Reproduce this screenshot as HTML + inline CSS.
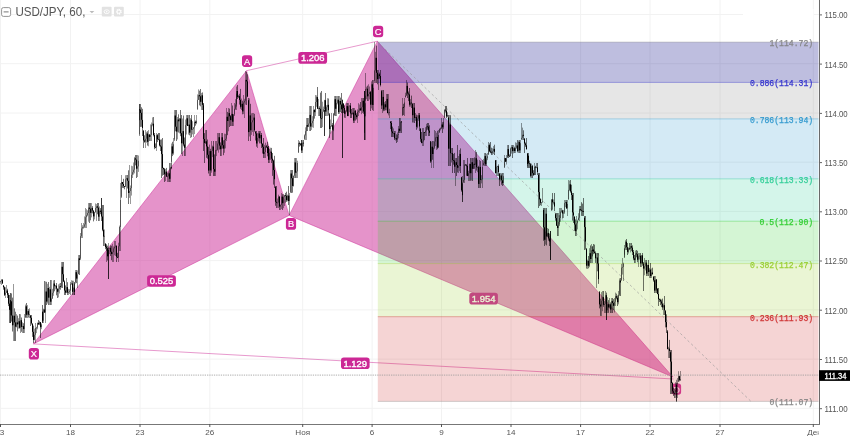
<!DOCTYPE html>
<html><head><meta charset="utf-8"><title>USD/JPY</title>
<style>html,body{margin:0;padding:0;background:#fff;width:850px;height:436px;overflow:hidden;font-family:"Liberation Sans",sans-serif}</style>
</head><body>
<svg width="850" height="436" viewBox="0 0 850 436" style="position:absolute;left:0;top:0;will-change:transform;font-family:'Liberation Sans',sans-serif">
<rect width="850" height="436" fill="#fff"/>
<line x1="0.5" x2="0.5" y1="0" y2="424" stroke="#f2f2f2" stroke-width="1"/>
<line x1="70.5" x2="70.5" y1="0" y2="424" stroke="#f2f2f2" stroke-width="1"/>
<line x1="140" x2="140" y1="0" y2="424" stroke="#f2f2f2" stroke-width="1"/>
<line x1="209.8" x2="209.8" y1="0" y2="424" stroke="#f2f2f2" stroke-width="1"/>
<line x1="302.7" x2="302.7" y1="0" y2="424" stroke="#f2f2f2" stroke-width="1"/>
<line x1="372.1" x2="372.1" y1="0" y2="424" stroke="#f2f2f2" stroke-width="1"/>
<line x1="441.5" x2="441.5" y1="0" y2="424" stroke="#f2f2f2" stroke-width="1"/>
<line x1="511" x2="511" y1="0" y2="424" stroke="#f2f2f2" stroke-width="1"/>
<line x1="580.6" x2="580.6" y1="0" y2="424" stroke="#f2f2f2" stroke-width="1"/>
<line x1="650" x2="650" y1="0" y2="424" stroke="#f2f2f2" stroke-width="1"/>
<line x1="720" x2="720" y1="0" y2="424" stroke="#f2f2f2" stroke-width="1"/>
<line x1="813.3" x2="813.3" y1="0" y2="424" stroke="#f2f2f2" stroke-width="1"/>
<line x1="0" x2="819" y1="14.5" y2="14.5" stroke="#f2f2f2" stroke-width="1"/>
<line x1="0" x2="819" y1="63.7" y2="63.7" stroke="#f2f2f2" stroke-width="1"/>
<line x1="0" x2="819" y1="113.0" y2="113.0" stroke="#f2f2f2" stroke-width="1"/>
<line x1="0" x2="819" y1="162.2" y2="162.2" stroke="#f2f2f2" stroke-width="1"/>
<line x1="0" x2="819" y1="211.4" y2="211.4" stroke="#f2f2f2" stroke-width="1"/>
<line x1="0" x2="819" y1="260.6" y2="260.6" stroke="#f2f2f2" stroke-width="1"/>
<line x1="0" x2="819" y1="309.9" y2="309.9" stroke="#f2f2f2" stroke-width="1"/>
<line x1="0" x2="819" y1="359.1" y2="359.1" stroke="#f2f2f2" stroke-width="1"/>
<line x1="0" x2="819" y1="408.3" y2="408.3" stroke="#f2f2f2" stroke-width="1"/>
<rect x="743" y="9" width="70.5" height="11" fill="#fff"/>
<polygon points="33.4,343.9 246.5,70.7 289.1,215.4" fill="#CC2895" fill-opacity="0.5"/>
<polygon points="289.1,215.4 377.4,41.2 673,377" fill="#CC2895" fill-opacity="0.5"/>
<line x1="33.4" y1="343.9" x2="289.1" y2="215.4" stroke="#CC2895" stroke-opacity="0.6" stroke-width="0.8"/>
<line x1="246.5" y1="70.7" x2="377.4" y2="41.2" stroke="#CC2895" stroke-opacity="0.6" stroke-width="0.8"/>
<line x1="289.1" y1="215.4" x2="673" y2="377" stroke="#CC2895" stroke-opacity="0.6" stroke-width="0.8"/>
<line x1="33.4" y1="343.9" x2="673.5" y2="379" stroke="#CC2895" stroke-opacity="0.6" stroke-width="0.8"/>
<line x1="33.4" y1="343.9" x2="246.5" y2="70.7" stroke="#CC2895" stroke-opacity="0.6" stroke-width="0.8"/>
<line x1="246.5" y1="70.7" x2="289.1" y2="215.4" stroke="#CC2895" stroke-opacity="0.6" stroke-width="0.8"/>
<line x1="289.1" y1="215.4" x2="377.4" y2="41.2" stroke="#CC2895" stroke-opacity="0.6" stroke-width="0.8"/>
<line x1="377.4" y1="41.2" x2="673" y2="377" stroke="#CC2895" stroke-opacity="0.6" stroke-width="0.8"/>
<rect x="28.8" y="347.9" width="10.2" height="11.6" rx="2.8" ry="2.8" fill="#CC2895" fill-opacity="1"/><text x="33.9" y="357.1" font-size="9.3" text-anchor="middle" fill="#fff" stroke="#fff" stroke-width="0.2">X</text>
<rect x="242.0" y="55.3" width="10.2" height="11.6" rx="2.8" ry="2.8" fill="#CC2895" fill-opacity="1"/><text x="247.1" y="64.5" font-size="9.3" text-anchor="middle" fill="#fff" stroke="#fff" stroke-width="0.2">A</text>
<rect x="285.9" y="218.1" width="10.2" height="11.6" rx="2.8" ry="2.8" fill="#CC2895" fill-opacity="1"/><text x="291.1" y="227.3" font-size="9.3" text-anchor="middle" fill="#fff" stroke="#fff" stroke-width="0.2">B</text>
<rect x="373.0" y="25.7" width="10.2" height="11.6" rx="2.8" ry="2.8" fill="#CC2895" fill-opacity="1"/><text x="378.1" y="34.9" font-size="9.3" text-anchor="middle" fill="#fff" stroke="#fff" stroke-width="0.2">C</text>
<rect x="671.9" y="383.6" width="9.2" height="11.2" rx="2.8" ry="2.8" fill="#CC2895" fill-opacity="0.9"/><text x="676.5" y="392.6" font-size="9.3" text-anchor="middle" fill="#fff" stroke="#fff" stroke-width="0.2">D</text>
<rect x="298.3" y="52.1" width="28.8" height="11.6" rx="2.8" ry="2.8" fill="#CC2895"/><text x="312.7" y="61.2" font-size="9.3" text-anchor="middle" fill="#fff" stroke="#fff" stroke-width="0.35" textLength="23.6" lengthAdjust="spacingAndGlyphs">1.206</text>
<rect x="147.1" y="275.2" width="28.8" height="11.6" rx="2.8" ry="2.8" fill="#CC2895"/><text x="161.5" y="284.4" font-size="9.3" text-anchor="middle" fill="#fff" stroke="#fff" stroke-width="0.35" textLength="23.6" lengthAdjust="spacingAndGlyphs">0.525</text>
<rect x="469.3" y="292.7" width="28.6" height="11.8" rx="2.8" ry="2.8" fill="#CC2895"/><text x="483.6" y="302.0" font-size="9.3" text-anchor="middle" fill="#fff" stroke="#fff" stroke-width="0.35" textLength="23.6" lengthAdjust="spacingAndGlyphs">1.954</text>
<rect x="341.0" y="357.6" width="28.6" height="11.4" rx="2.8" ry="2.8" fill="#CC2895"/><text x="355.3" y="366.7" font-size="9.3" text-anchor="middle" fill="#fff" stroke="#fff" stroke-width="0.35" textLength="23.6" lengthAdjust="spacingAndGlyphs">1.129</text>
<rect x="377.8" y="42.1" width="440.7" height="40.4" fill="#10108A" fill-opacity="0.27"/>
<rect x="377.8" y="82.4" width="440.7" height="36.4" fill="#808080" fill-opacity="0.2"/>
<rect x="377.8" y="118.9" width="440.7" height="60.1" fill="#2895CC" fill-opacity="0.2"/>
<rect x="377.8" y="178.9" width="440.7" height="42.3" fill="#28CC95" fill-opacity="0.2"/>
<rect x="377.8" y="221.2" width="440.7" height="42.3" fill="#28CC28" fill-opacity="0.2"/>
<rect x="377.8" y="263.6" width="440.7" height="53.2" fill="#95CC28" fill-opacity="0.2"/>
<rect x="377.8" y="316.7" width="440.7" height="84.7" fill="#CC2828" fill-opacity="0.2"/>
<line x1="377.8" x2="818.5" y1="42.1" y2="42.1" stroke="#808080" stroke-opacity="0.35" stroke-width="1"/>
<line x1="377.8" x2="818.5" y1="82.4" y2="82.4" stroke="#2828CC" stroke-opacity="0.35" stroke-width="1"/>
<line x1="377.8" x2="818.5" y1="118.9" y2="118.9" stroke="#2895CC" stroke-opacity="0.35" stroke-width="1"/>
<line x1="377.8" x2="818.5" y1="178.9" y2="178.9" stroke="#28CC95" stroke-opacity="0.35" stroke-width="1"/>
<line x1="377.8" x2="818.5" y1="221.2" y2="221.2" stroke="#28CC28" stroke-opacity="0.35" stroke-width="1"/>
<line x1="377.8" x2="818.5" y1="263.6" y2="263.6" stroke="#95CC28" stroke-opacity="0.35" stroke-width="1"/>
<line x1="377.8" x2="818.5" y1="316.7" y2="316.7" stroke="#CC2828" stroke-opacity="0.35" stroke-width="1"/>
<line x1="377.8" x2="818.5" y1="401.4" y2="401.4" stroke="#808080" stroke-opacity="0.35" stroke-width="1"/>
<line x1="377.8" y1="42.1" x2="751" y2="401.4" stroke="#999" stroke-width="0.8" stroke-dasharray="2.5,2.5" stroke-opacity="0.8"/>
<text x="813.2" y="46.1" font-family="Liberation Mono, monospace" font-size="8.8" text-anchor="end" textLength="43.8" lengthAdjust="spacingAndGlyphs" fill="#808080" stroke="#808080" stroke-width="0.25" fill-opacity="0.9" stroke-opacity="0.9">1(114.72)</text>
<text x="813.2" y="86.4" font-family="Liberation Mono, monospace" font-size="8.8" text-anchor="end" textLength="63.3" lengthAdjust="spacingAndGlyphs" fill="#2828CC" stroke="#2828CC" stroke-width="0.25" fill-opacity="0.9" stroke-opacity="0.9">0.886(114.31)</text>
<text x="813.2" y="122.9" font-family="Liberation Mono, monospace" font-size="8.8" text-anchor="end" textLength="63.3" lengthAdjust="spacingAndGlyphs" fill="#2895CC" stroke="#2895CC" stroke-width="0.25" fill-opacity="0.9" stroke-opacity="0.9">0.786(113.94)</text>
<text x="813.2" y="182.9" font-family="Liberation Mono, monospace" font-size="8.8" text-anchor="end" textLength="63.3" lengthAdjust="spacingAndGlyphs" fill="#28CC95" stroke="#28CC95" stroke-width="0.25" fill-opacity="0.9" stroke-opacity="0.9">0.618(113.33)</text>
<text x="813.2" y="225.2" font-family="Liberation Mono, monospace" font-size="8.8" text-anchor="end" textLength="53.6" lengthAdjust="spacingAndGlyphs" fill="#28CC28" stroke="#28CC28" stroke-width="0.25" fill-opacity="0.9" stroke-opacity="0.9">0.5(112.90)</text>
<text x="813.2" y="267.6" font-family="Liberation Mono, monospace" font-size="8.8" text-anchor="end" textLength="63.3" lengthAdjust="spacingAndGlyphs" fill="#95CC28" stroke="#95CC28" stroke-width="0.25" fill-opacity="0.9" stroke-opacity="0.9">0.382(112.47)</text>
<text x="813.2" y="320.7" font-family="Liberation Mono, monospace" font-size="8.8" text-anchor="end" textLength="63.3" lengthAdjust="spacingAndGlyphs" fill="#CC2828" stroke="#CC2828" stroke-width="0.25" fill-opacity="0.9" stroke-opacity="0.9">0.236(111.93)</text>
<text x="813.2" y="405.4" font-family="Liberation Mono, monospace" font-size="8.8" text-anchor="end" textLength="43.8" lengthAdjust="spacingAndGlyphs" fill="#808080" stroke="#808080" stroke-width="0.25" fill-opacity="0.9" stroke-opacity="0.9">0(111.07)</text>
<line x1="0.5" x2="0.5" y1="280.8" y2="283.8" stroke="#000" stroke-opacity="0.4" stroke-width="1"/>
<rect x="0.0" y="281.2" width="1" height="0.8" fill="#000" fill-opacity="0.45"/>
<line x1="1.5" x2="1.5" y1="279.0" y2="285.0" stroke="#000" stroke-opacity="0.4" stroke-width="1"/>
<rect x="1.0" y="280.1" width="1" height="1.1" fill="#000" fill-opacity="0.45"/>
<line x1="2.5" x2="2.5" y1="279.0" y2="283.6" stroke="#000" stroke-opacity="0.55" stroke-width="1"/>
<rect x="2.0" y="280.1" width="1" height="3.4" fill="#000" fill-opacity="1"/>
<line x1="3.5" x2="3.5" y1="285.0" y2="289.7" stroke="#000" stroke-opacity="0.55" stroke-width="1"/>
<rect x="3.0" y="285.6" width="1" height="1.6" fill="#000" fill-opacity="1"/>
<line x1="4.5" x2="4.5" y1="286.5" y2="296.0" stroke="#000" stroke-opacity="0.55" stroke-width="1"/>
<rect x="4.0" y="287.3" width="1" height="7.5" fill="#000" fill-opacity="1"/>
<line x1="5.5" x2="5.5" y1="287.2" y2="298.0" stroke="#000" stroke-opacity="0.4" stroke-width="1"/>
<rect x="5.0" y="292.8" width="1" height="2.0" fill="#000" fill-opacity="0.45"/>
<line x1="6.5" x2="6.5" y1="285.0" y2="293.0" stroke="#000" stroke-opacity="0.4" stroke-width="1"/>
<rect x="6.0" y="290.5" width="1" height="2.3" fill="#000" fill-opacity="0.45"/>
<line x1="7.5" x2="7.5" y1="288.8" y2="298.0" stroke="#000" stroke-opacity="0.55" stroke-width="1"/>
<rect x="7.0" y="290.5" width="1" height="4.3" fill="#000" fill-opacity="1"/>
<line x1="8.5" x2="8.5" y1="293.0" y2="306.1" stroke="#000" stroke-opacity="0.55" stroke-width="1"/>
<rect x="8.0" y="294.8" width="1" height="8.9" fill="#000" fill-opacity="1"/>
<line x1="9.5" x2="9.5" y1="295.0" y2="323.0" stroke="#000" stroke-opacity="0.55" stroke-width="1"/>
<rect x="9.0" y="303.6" width="1" height="6.2" fill="#000" fill-opacity="1"/>
<line x1="10.5" x2="10.5" y1="293.0" y2="310.7" stroke="#000" stroke-opacity="0.4" stroke-width="1"/>
<rect x="10.0" y="309.1" width="1" height="0.8" fill="#000" fill-opacity="0.45"/>
<line x1="10.5" x2="10.5" y1="293.0" y2="314.9" stroke="#000" stroke-opacity="0.4" stroke-width="1"/>
<rect x="10.0" y="301.3" width="1" height="7.8" fill="#000" fill-opacity="0.45"/>
<line x1="11.5" x2="11.5" y1="293.4" y2="321.6" stroke="#000" stroke-opacity="0.55" stroke-width="1"/>
<rect x="11.0" y="301.3" width="1" height="14.2" fill="#000" fill-opacity="1"/>
<line x1="12.5" x2="12.5" y1="297.6" y2="331.5" stroke="#000" stroke-opacity="0.55" stroke-width="1"/>
<rect x="12.0" y="315.5" width="1" height="9.8" fill="#000" fill-opacity="1"/>
<line x1="13.5" x2="13.5" y1="284.0" y2="341.0" stroke="#000" stroke-opacity="0.4" stroke-width="1"/>
<rect x="13.0" y="315.7" width="1" height="9.5" fill="#000" fill-opacity="0.45"/>
<line x1="14.5" x2="14.5" y1="308.3" y2="341.0" stroke="#000" stroke-opacity="0.55" stroke-width="1"/>
<rect x="14.0" y="315.7" width="1" height="6.7" fill="#000" fill-opacity="1"/>
<line x1="15.5" x2="15.5" y1="311.7" y2="341.0" stroke="#000" stroke-opacity="0.55" stroke-width="1"/>
<rect x="15.0" y="322.4" width="1" height="4.3" fill="#000" fill-opacity="1"/>
<line x1="16.5" x2="16.5" y1="314.1" y2="327.4" stroke="#000" stroke-opacity="0.4" stroke-width="1"/>
<rect x="16.0" y="322.4" width="1" height="4.4" fill="#000" fill-opacity="0.45"/>
<line x1="17.5" x2="17.5" y1="315.6" y2="331.3" stroke="#000" stroke-opacity="0.55" stroke-width="1"/>
<rect x="17.0" y="322.4" width="1" height="2.0" fill="#000" fill-opacity="1"/>
<line x1="18.5" x2="18.5" y1="318.2" y2="328.6" stroke="#000" stroke-opacity="0.4" stroke-width="1"/>
<rect x="18.0" y="321.2" width="1" height="3.1" fill="#000" fill-opacity="0.45"/>
<line x1="19.5" x2="19.5" y1="314.0" y2="328.6" stroke="#000" stroke-opacity="0.55" stroke-width="1"/>
<rect x="19.0" y="321.2" width="1" height="6.6" fill="#000" fill-opacity="1"/>
<line x1="20.5" x2="20.5" y1="314.2" y2="333.0" stroke="#000" stroke-opacity="0.4" stroke-width="1"/>
<rect x="20.0" y="320.2" width="1" height="7.6" fill="#000" fill-opacity="0.45"/>
<line x1="21.5" x2="21.5" y1="317.5" y2="331.8" stroke="#000" stroke-opacity="0.55" stroke-width="1"/>
<rect x="21.0" y="320.2" width="1" height="6.7" fill="#000" fill-opacity="1"/>
<line x1="22.5" x2="22.5" y1="322.3" y2="333.0" stroke="#000" stroke-opacity="0.4" stroke-width="1"/>
<rect x="22.0" y="326.1" width="1" height="0.8" fill="#000" fill-opacity="0.45"/>
<line x1="23.5" x2="23.5" y1="323.2" y2="333.0" stroke="#000" stroke-opacity="0.55" stroke-width="1"/>
<rect x="23.0" y="326.1" width="1" height="3.0" fill="#000" fill-opacity="1"/>
<line x1="24.5" x2="24.5" y1="314.0" y2="333.0" stroke="#000" stroke-opacity="0.4" stroke-width="1"/>
<rect x="24.0" y="318.8" width="1" height="10.3" fill="#000" fill-opacity="0.45"/>
<line x1="25.5" x2="25.5" y1="304.6" y2="318.0" stroke="#000" stroke-opacity="0.4" stroke-width="1"/>
<rect x="25.0" y="306.3" width="1" height="11.0" fill="#000" fill-opacity="0.45"/>
<line x1="26.5" x2="26.5" y1="303.0" y2="317.8" stroke="#000" stroke-opacity="0.55" stroke-width="1"/>
<rect x="26.0" y="306.3" width="1" height="8.5" fill="#000" fill-opacity="1"/>
<line x1="27.5" x2="27.5" y1="305.1" y2="318.0" stroke="#000" stroke-opacity="0.4" stroke-width="1"/>
<rect x="27.0" y="311.1" width="1" height="3.7" fill="#000" fill-opacity="0.45"/>
<line x1="28.5" x2="28.5" y1="309.2" y2="317.5" stroke="#000" stroke-opacity="0.55" stroke-width="1"/>
<rect x="28.0" y="311.1" width="1" height="3.6" fill="#000" fill-opacity="1"/>
<line x1="29.5" x2="29.5" y1="308.3" y2="318.0" stroke="#000" stroke-opacity="0.4" stroke-width="1"/>
<rect x="29.0" y="314.2" width="1" height="0.8" fill="#000" fill-opacity="0.45"/>
<line x1="30.5" x2="30.5" y1="315.0" y2="326.0" stroke="#000" stroke-opacity="0.55" stroke-width="1"/>
<rect x="30.0" y="315.6" width="1" height="2.2" fill="#000" fill-opacity="1"/>
<line x1="31.5" x2="31.5" y1="315.0" y2="324.6" stroke="#000" stroke-opacity="0.55" stroke-width="1"/>
<rect x="31.0" y="317.8" width="1" height="5.5" fill="#000" fill-opacity="1"/>
<line x1="32.5" x2="32.5" y1="323.0" y2="336.9" stroke="#000" stroke-opacity="0.55" stroke-width="1"/>
<rect x="32.0" y="324.0" width="1" height="7.8" fill="#000" fill-opacity="1"/>
<line x1="33.5" x2="33.5" y1="325.6" y2="343.0" stroke="#000" stroke-opacity="0.55" stroke-width="1"/>
<rect x="33.0" y="331.8" width="1" height="8.1" fill="#000" fill-opacity="1"/>
<line x1="34.5" x2="34.5" y1="328.7" y2="340.4" stroke="#000" stroke-opacity="0.4" stroke-width="1"/>
<rect x="34.0" y="334.8" width="1" height="5.1" fill="#000" fill-opacity="0.45"/>
<line x1="35.5" x2="35.5" y1="323.0" y2="343.0" stroke="#000" stroke-opacity="0.4" stroke-width="1"/>
<rect x="35.0" y="328.0" width="1" height="6.8" fill="#000" fill-opacity="0.45"/>
<line x1="36.5" x2="36.5" y1="326.8" y2="333.1" stroke="#000" stroke-opacity="0.4" stroke-width="1"/>
<rect x="36.0" y="327.6" width="1" height="0.8" fill="#000" fill-opacity="0.45"/>
<line x1="37.5" x2="37.5" y1="322.5" y2="329.3" stroke="#000" stroke-opacity="0.4" stroke-width="1"/>
<rect x="37.0" y="323.0" width="1" height="4.6" fill="#000" fill-opacity="0.45"/>
<line x1="38.5" x2="38.5" y1="320.0" y2="324.8" stroke="#000" stroke-opacity="0.55" stroke-width="1"/>
<rect x="38.0" y="323.0" width="1" height="1.4" fill="#000" fill-opacity="1"/>
<line x1="39.5" x2="39.5" y1="320.9" y2="325.2" stroke="#000" stroke-opacity="0.4" stroke-width="1"/>
<rect x="39.0" y="322.2" width="1" height="2.2" fill="#000" fill-opacity="0.45"/>
<line x1="40.5" x2="40.5" y1="322.0" y2="338.0" stroke="#000" stroke-opacity="0.55" stroke-width="1"/>
<rect x="40.0" y="322.2" width="1" height="5.0" fill="#000" fill-opacity="1"/>
<line x1="41.5" x2="41.5" y1="323.3" y2="329.2" stroke="#000" stroke-opacity="0.4" stroke-width="1"/>
<rect x="41.0" y="324.5" width="1" height="2.6" fill="#000" fill-opacity="0.45"/>
<line x1="42.5" x2="42.5" y1="311.1" y2="323.0" stroke="#000" stroke-opacity="0.4" stroke-width="1"/>
<rect x="42.0" y="312.1" width="1" height="10.0" fill="#000" fill-opacity="0.45"/>
<line x1="42.5" x2="42.5" y1="305.0" y2="323.0" stroke="#000" stroke-opacity="0.55" stroke-width="1"/>
<rect x="42.0" y="312.1" width="1" height="8.6" fill="#000" fill-opacity="1"/>
<line x1="43.5" x2="43.5" y1="308.7" y2="323.0" stroke="#000" stroke-opacity="0.4" stroke-width="1"/>
<rect x="43.0" y="309.5" width="1" height="11.2" fill="#000" fill-opacity="0.45"/>
<line x1="44.5" x2="44.5" y1="281.0" y2="312.9" stroke="#000" stroke-opacity="0.55" stroke-width="1"/>
<rect x="44.0" y="309.5" width="1" height="3.0" fill="#000" fill-opacity="1"/>
<line x1="45.5" x2="45.5" y1="281.5" y2="323.0" stroke="#000" stroke-opacity="0.4" stroke-width="1"/>
<rect x="45.0" y="291.5" width="1" height="21.0" fill="#000" fill-opacity="0.45"/>
<line x1="46.5" x2="46.5" y1="281.8" y2="305.0" stroke="#000" stroke-opacity="0.55" stroke-width="1"/>
<rect x="46.0" y="291.5" width="1" height="10.1" fill="#000" fill-opacity="1"/>
<line x1="47.5" x2="47.5" y1="283.8" y2="303.5" stroke="#000" stroke-opacity="0.4" stroke-width="1"/>
<rect x="47.0" y="288.0" width="1" height="13.6" fill="#000" fill-opacity="0.45"/>
<line x1="48.5" x2="48.5" y1="282.0" y2="305.0" stroke="#000" stroke-opacity="0.55" stroke-width="1"/>
<rect x="48.0" y="288.0" width="1" height="9.7" fill="#000" fill-opacity="1"/>
<line x1="49.5" x2="49.5" y1="286.8" y2="305.0" stroke="#000" stroke-opacity="0.4" stroke-width="1"/>
<rect x="49.0" y="289.3" width="1" height="8.4" fill="#000" fill-opacity="0.45"/>
<line x1="50.5" x2="50.5" y1="280.0" y2="305.0" stroke="#000" stroke-opacity="0.55" stroke-width="1"/>
<rect x="50.0" y="289.3" width="1" height="12.4" fill="#000" fill-opacity="1"/>
<line x1="51.5" x2="51.5" y1="280.0" y2="305.0" stroke="#000" stroke-opacity="0.4" stroke-width="1"/>
<rect x="51.0" y="298.5" width="1" height="3.2" fill="#000" fill-opacity="0.45"/>
<line x1="52.5" x2="52.5" y1="288.8" y2="298.9" stroke="#000" stroke-opacity="0.4" stroke-width="1"/>
<rect x="52.0" y="292.8" width="1" height="5.7" fill="#000" fill-opacity="0.45"/>
<line x1="53.5" x2="53.5" y1="280.4" y2="295.8" stroke="#000" stroke-opacity="0.4" stroke-width="1"/>
<rect x="53.0" y="283.5" width="1" height="9.3" fill="#000" fill-opacity="0.45"/>
<line x1="54.5" x2="54.5" y1="280.0" y2="291.3" stroke="#000" stroke-opacity="0.55" stroke-width="1"/>
<rect x="54.0" y="283.5" width="1" height="2.7" fill="#000" fill-opacity="1"/>
<line x1="55.5" x2="55.5" y1="285.0" y2="289.4" stroke="#000" stroke-opacity="0.4" stroke-width="1"/>
<rect x="55.0" y="285.7" width="1" height="0.8" fill="#000" fill-opacity="0.45"/>
<line x1="56.5" x2="56.5" y1="283.0" y2="295.3" stroke="#000" stroke-opacity="0.55" stroke-width="1"/>
<rect x="56.0" y="285.7" width="1" height="2.9" fill="#000" fill-opacity="1"/>
<line x1="57.5" x2="57.5" y1="288.6" y2="298.0" stroke="#000" stroke-opacity="0.55" stroke-width="1"/>
<rect x="57.0" y="288.7" width="1" height="3.1" fill="#000" fill-opacity="1"/>
<line x1="58.5" x2="58.5" y1="284.4" y2="297.4" stroke="#000" stroke-opacity="0.4" stroke-width="1"/>
<rect x="58.0" y="288.7" width="1" height="3.0" fill="#000" fill-opacity="0.45"/>
<line x1="59.5" x2="59.5" y1="283.5" y2="293.5" stroke="#000" stroke-opacity="0.4" stroke-width="1"/>
<rect x="59.0" y="286.2" width="1" height="2.6" fill="#000" fill-opacity="0.45"/>
<line x1="60.5" x2="60.5" y1="283.0" y2="289.7" stroke="#000" stroke-opacity="0.55" stroke-width="1"/>
<rect x="60.0" y="286.2" width="1" height="0.8" fill="#000" fill-opacity="1"/>
<line x1="61.5" x2="61.5" y1="262.0" y2="288.0" stroke="#000" stroke-opacity="0.4" stroke-width="1"/>
<rect x="61.0" y="266.8" width="1" height="19.9" fill="#000" fill-opacity="0.45"/>
<line x1="62.5" x2="62.5" y1="262.0" y2="288.0" stroke="#000" stroke-opacity="0.55" stroke-width="1"/>
<rect x="62.0" y="266.8" width="1" height="7.4" fill="#000" fill-opacity="1"/>
<line x1="63.5" x2="63.5" y1="262.0" y2="281.8" stroke="#000" stroke-opacity="0.55" stroke-width="1"/>
<rect x="63.0" y="274.3" width="1" height="7.2" fill="#000" fill-opacity="1"/>
<line x1="64.5" x2="64.5" y1="280.4" y2="295.0" stroke="#000" stroke-opacity="0.55" stroke-width="1"/>
<rect x="64.0" y="281.5" width="1" height="9.0" fill="#000" fill-opacity="1"/>
<line x1="65.5" x2="65.5" y1="285.4" y2="295.0" stroke="#000" stroke-opacity="0.55" stroke-width="1"/>
<rect x="65.0" y="290.5" width="1" height="2.2" fill="#000" fill-opacity="1"/>
<line x1="66.5" x2="66.5" y1="278.0" y2="292.8" stroke="#000" stroke-opacity="0.4" stroke-width="1"/>
<rect x="66.0" y="287.1" width="1" height="5.6" fill="#000" fill-opacity="0.45"/>
<line x1="67.5" x2="67.5" y1="282.2" y2="295.0" stroke="#000" stroke-opacity="0.55" stroke-width="1"/>
<rect x="67.0" y="287.1" width="1" height="5.5" fill="#000" fill-opacity="1"/>
<line x1="68.5" x2="68.5" y1="288.8" y2="295.0" stroke="#000" stroke-opacity="0.4" stroke-width="1"/>
<rect x="68.0" y="292.1" width="1" height="0.8" fill="#000" fill-opacity="0.45"/>
<line x1="69.5" x2="69.5" y1="289.1" y2="294.0" stroke="#000" stroke-opacity="0.4" stroke-width="1"/>
<rect x="69.0" y="290.7" width="1" height="1.4" fill="#000" fill-opacity="0.45"/>
<line x1="70.5" x2="70.5" y1="282.0" y2="295.0" stroke="#000" stroke-opacity="0.4" stroke-width="1"/>
<rect x="70.0" y="283.8" width="1" height="6.9" fill="#000" fill-opacity="0.45"/>
<line x1="71.5" x2="71.5" y1="280.2" y2="284.8" stroke="#000" stroke-opacity="0.4" stroke-width="1"/>
<rect x="71.0" y="283.4" width="1" height="0.8" fill="#000" fill-opacity="0.45"/>
<line x1="72.5" x2="72.5" y1="280.7" y2="295.0" stroke="#000" stroke-opacity="0.55" stroke-width="1"/>
<rect x="72.0" y="283.4" width="1" height="8.4" fill="#000" fill-opacity="1"/>
<line x1="73.5" x2="73.5" y1="280.7" y2="295.0" stroke="#000" stroke-opacity="0.4" stroke-width="1"/>
<rect x="73.0" y="287.6" width="1" height="4.2" fill="#000" fill-opacity="0.45"/>
<line x1="74.5" x2="74.5" y1="283.7" y2="295.0" stroke="#000" stroke-opacity="0.55" stroke-width="1"/>
<rect x="74.0" y="287.6" width="1" height="4.3" fill="#000" fill-opacity="1"/>
<line x1="74.5" x2="74.5" y1="282.1" y2="295.0" stroke="#000" stroke-opacity="0.4" stroke-width="1"/>
<rect x="74.0" y="282.2" width="1" height="9.6" fill="#000" fill-opacity="0.45"/>
<line x1="75.5" x2="75.5" y1="270.0" y2="283.6" stroke="#000" stroke-opacity="0.4" stroke-width="1"/>
<rect x="75.0" y="272.2" width="1" height="10.0" fill="#000" fill-opacity="0.45"/>
<line x1="76.5" x2="76.5" y1="270.0" y2="283.1" stroke="#000" stroke-opacity="0.55" stroke-width="1"/>
<rect x="76.0" y="272.2" width="1" height="6.4" fill="#000" fill-opacity="1"/>
<line x1="77.5" x2="77.5" y1="270.3" y2="288.0" stroke="#000" stroke-opacity="0.4" stroke-width="1"/>
<rect x="77.0" y="274.5" width="1" height="4.1" fill="#000" fill-opacity="0.45"/>
<line x1="78.5" x2="78.5" y1="255.0" y2="274.4" stroke="#000" stroke-opacity="0.4" stroke-width="1"/>
<rect x="78.0" y="258.3" width="1" height="15.7" fill="#000" fill-opacity="0.45"/>
<line x1="79.5" x2="79.5" y1="255.0" y2="275.0" stroke="#000" stroke-opacity="0.55" stroke-width="1"/>
<rect x="79.0" y="258.3" width="1" height="1.7" fill="#000" fill-opacity="1"/>
<line x1="80.5" x2="80.5" y1="233.0" y2="260.0" stroke="#000" stroke-opacity="0.4" stroke-width="1"/>
<rect x="80.0" y="236.2" width="1" height="22.4" fill="#000" fill-opacity="0.45"/>
<line x1="81.5" x2="81.5" y1="223.0" y2="238.0" stroke="#000" stroke-opacity="0.4" stroke-width="1"/>
<rect x="81.0" y="228.5" width="1" height="7.7" fill="#000" fill-opacity="0.45"/>
<line x1="82.5" x2="82.5" y1="225.2" y2="238.0" stroke="#000" stroke-opacity="0.4" stroke-width="1"/>
<rect x="82.0" y="227.1" width="1" height="1.4" fill="#000" fill-opacity="0.45"/>
<line x1="83.5" x2="83.5" y1="223.0" y2="228.7" stroke="#000" stroke-opacity="0.4" stroke-width="1"/>
<rect x="83.0" y="226.8" width="1" height="0.8" fill="#000" fill-opacity="0.45"/>
<line x1="84.5" x2="84.5" y1="216.4" y2="228.0" stroke="#000" stroke-opacity="0.4" stroke-width="1"/>
<rect x="84.0" y="224.4" width="1" height="2.3" fill="#000" fill-opacity="0.45"/>
<line x1="85.5" x2="85.5" y1="208.0" y2="228.0" stroke="#000" stroke-opacity="0.4" stroke-width="1"/>
<rect x="85.0" y="217.2" width="1" height="7.2" fill="#000" fill-opacity="0.45"/>
<line x1="86.5" x2="86.5" y1="209.2" y2="228.0" stroke="#000" stroke-opacity="0.4" stroke-width="1"/>
<rect x="86.0" y="215.2" width="1" height="2.0" fill="#000" fill-opacity="0.45"/>
<line x1="87.5" x2="87.5" y1="210.3" y2="216.3" stroke="#000" stroke-opacity="0.4" stroke-width="1"/>
<rect x="87.0" y="213.0" width="1" height="2.2" fill="#000" fill-opacity="0.45"/>
<line x1="88.5" x2="88.5" y1="203.0" y2="221.7" stroke="#000" stroke-opacity="0.4" stroke-width="1"/>
<rect x="88.0" y="207.6" width="1" height="5.4" fill="#000" fill-opacity="0.45"/>
<line x1="89.5" x2="89.5" y1="203.0" y2="223.0" stroke="#000" stroke-opacity="0.55" stroke-width="1"/>
<rect x="89.0" y="207.6" width="1" height="1.2" fill="#000" fill-opacity="1"/>
<line x1="90.5" x2="90.5" y1="203.0" y2="220.3" stroke="#000" stroke-opacity="0.55" stroke-width="1"/>
<rect x="90.0" y="208.7" width="1" height="4.1" fill="#000" fill-opacity="1"/>
<line x1="91.5" x2="91.5" y1="203.0" y2="217.4" stroke="#000" stroke-opacity="0.4" stroke-width="1"/>
<rect x="91.0" y="207.9" width="1" height="5.0" fill="#000" fill-opacity="0.45"/>
<line x1="92.5" x2="92.5" y1="206.1" y2="213.4" stroke="#000" stroke-opacity="0.55" stroke-width="1"/>
<rect x="92.0" y="207.9" width="1" height="2.7" fill="#000" fill-opacity="1"/>
<line x1="93.5" x2="93.5" y1="210.4" y2="221.4" stroke="#000" stroke-opacity="0.55" stroke-width="1"/>
<rect x="93.0" y="210.6" width="1" height="5.8" fill="#000" fill-opacity="1"/>
<line x1="94.5" x2="94.5" y1="211.9" y2="219.4" stroke="#000" stroke-opacity="0.4" stroke-width="1"/>
<rect x="94.0" y="212.1" width="1" height="4.3" fill="#000" fill-opacity="0.45"/>
<line x1="95.5" x2="95.5" y1="203.4" y2="212.7" stroke="#000" stroke-opacity="0.4" stroke-width="1"/>
<rect x="95.0" y="208.0" width="1" height="4.1" fill="#000" fill-opacity="0.45"/>
<line x1="96.5" x2="96.5" y1="204.1" y2="221.0" stroke="#000" stroke-opacity="0.4" stroke-width="1"/>
<rect x="96.0" y="206.3" width="1" height="1.7" fill="#000" fill-opacity="0.45"/>
<line x1="97.5" x2="97.5" y1="203.0" y2="214.3" stroke="#000" stroke-opacity="0.55" stroke-width="1"/>
<rect x="97.0" y="206.3" width="1" height="1.3" fill="#000" fill-opacity="1"/>
<line x1="98.5" x2="98.5" y1="203.0" y2="221.0" stroke="#000" stroke-opacity="0.55" stroke-width="1"/>
<rect x="98.0" y="207.6" width="1" height="9.1" fill="#000" fill-opacity="1"/>
<line x1="99.5" x2="99.5" y1="206.4" y2="221.0" stroke="#000" stroke-opacity="0.4" stroke-width="1"/>
<rect x="99.0" y="210.7" width="1" height="6.1" fill="#000" fill-opacity="0.45"/>
<line x1="100.5" x2="100.5" y1="208.1" y2="214.2" stroke="#000" stroke-opacity="0.55" stroke-width="1"/>
<rect x="100.0" y="210.7" width="1" height="1.2" fill="#000" fill-opacity="1"/>
<line x1="101.5" x2="101.5" y1="210.4" y2="221.0" stroke="#000" stroke-opacity="0.55" stroke-width="1"/>
<rect x="101.0" y="211.9" width="1" height="4.6" fill="#000" fill-opacity="1"/>
<line x1="102.5" x2="102.5" y1="205.0" y2="231.2" stroke="#000" stroke-opacity="0.55" stroke-width="1"/>
<rect x="102.0" y="216.5" width="1" height="13.2" fill="#000" fill-opacity="1"/>
<line x1="103.5" x2="103.5" y1="205.0" y2="246.0" stroke="#000" stroke-opacity="0.55" stroke-width="1"/>
<rect x="103.0" y="229.7" width="1" height="6.9" fill="#000" fill-opacity="1"/>
<line x1="104.5" x2="104.5" y1="229.5" y2="246.0" stroke="#000" stroke-opacity="0.4" stroke-width="1"/>
<rect x="104.0" y="235.8" width="1" height="0.9" fill="#000" fill-opacity="0.45"/>
<line x1="105.5" x2="105.5" y1="243.0" y2="249.2" stroke="#000" stroke-opacity="0.55" stroke-width="1"/>
<rect x="105.0" y="243.9" width="1" height="3.2" fill="#000" fill-opacity="1"/>
<line x1="106.5" x2="106.5" y1="245.5" y2="262.0" stroke="#000" stroke-opacity="0.4" stroke-width="1"/>
<rect x="106.0" y="246.9" width="1" height="0.8" fill="#000" fill-opacity="0.45"/>
<line x1="106.5" x2="106.5" y1="244.2" y2="250.8" stroke="#000" stroke-opacity="0.55" stroke-width="1"/>
<rect x="106.0" y="246.9" width="1" height="1.3" fill="#000" fill-opacity="1"/>
<line x1="107.5" x2="107.5" y1="245.7" y2="260.5" stroke="#000" stroke-opacity="0.55" stroke-width="1"/>
<rect x="107.0" y="248.2" width="1" height="8.1" fill="#000" fill-opacity="1"/>
<line x1="108.5" x2="108.5" y1="243.0" y2="256.4" stroke="#000" stroke-opacity="0.4" stroke-width="1"/>
<rect x="108.0" y="247.8" width="1" height="8.4" fill="#000" fill-opacity="0.45"/>
<line x1="109.5" x2="109.5" y1="247.6" y2="254.1" stroke="#000" stroke-opacity="0.4" stroke-width="1"/>
<rect x="109.0" y="247.8" width="1" height="0.8" fill="#000" fill-opacity="0.45"/>
<line x1="110.5" x2="110.5" y1="245.4" y2="256.0" stroke="#000" stroke-opacity="0.55" stroke-width="1"/>
<rect x="110.0" y="247.8" width="1" height="4.0" fill="#000" fill-opacity="1"/>
<line x1="111.5" x2="111.5" y1="245.6" y2="260.2" stroke="#000" stroke-opacity="0.55" stroke-width="1"/>
<rect x="111.0" y="251.7" width="1" height="2.3" fill="#000" fill-opacity="1"/>
<line x1="112.5" x2="112.5" y1="243.8" y2="262.0" stroke="#000" stroke-opacity="0.4" stroke-width="1"/>
<rect x="112.0" y="252.2" width="1" height="1.8" fill="#000" fill-opacity="0.45"/>
<line x1="113.5" x2="113.5" y1="246.4" y2="262.0" stroke="#000" stroke-opacity="0.4" stroke-width="1"/>
<rect x="113.0" y="248.4" width="1" height="3.8" fill="#000" fill-opacity="0.45"/>
<line x1="114.5" x2="114.5" y1="241.0" y2="255.3" stroke="#000" stroke-opacity="0.4" stroke-width="1"/>
<rect x="114.0" y="246.7" width="1" height="1.7" fill="#000" fill-opacity="0.45"/>
<line x1="115.5" x2="115.5" y1="241.0" y2="256.0" stroke="#000" stroke-opacity="0.4" stroke-width="1"/>
<rect x="115.0" y="245.7" width="1" height="0.9" fill="#000" fill-opacity="0.45"/>
<line x1="116.5" x2="116.5" y1="245.6" y2="262.0" stroke="#000" stroke-opacity="0.55" stroke-width="1"/>
<rect x="116.0" y="245.7" width="1" height="11.1" fill="#000" fill-opacity="1"/>
<line x1="117.5" x2="117.5" y1="252.8" y2="258.1" stroke="#000" stroke-opacity="0.55" stroke-width="1"/>
<rect x="117.0" y="256.9" width="1" height="0.8" fill="#000" fill-opacity="1"/>
<line x1="118.5" x2="118.5" y1="242.7" y2="262.0" stroke="#000" stroke-opacity="0.4" stroke-width="1"/>
<rect x="118.0" y="246.2" width="1" height="11.3" fill="#000" fill-opacity="0.45"/>
<line x1="119.5" x2="119.5" y1="225.6" y2="251.0" stroke="#000" stroke-opacity="0.4" stroke-width="1"/>
<rect x="119.0" y="227.0" width="1" height="19.3" fill="#000" fill-opacity="0.45"/>
<line x1="120.5" x2="120.5" y1="183.0" y2="251.0" stroke="#000" stroke-opacity="0.4" stroke-width="1"/>
<rect x="120.0" y="200.0" width="1" height="27.0" fill="#000" fill-opacity="0.45"/>
<line x1="121.5" x2="121.5" y1="175.0" y2="198.0" stroke="#000" stroke-opacity="0.4" stroke-width="1"/>
<rect x="121.0" y="182.0" width="1" height="14.8" fill="#000" fill-opacity="0.45"/>
<line x1="122.5" x2="122.5" y1="182.0" y2="187.9" stroke="#000" stroke-opacity="0.55" stroke-width="1"/>
<rect x="122.0" y="182.0" width="1" height="2.0" fill="#000" fill-opacity="1"/>
<line x1="123.5" x2="123.5" y1="178.8" y2="188.1" stroke="#000" stroke-opacity="0.55" stroke-width="1"/>
<rect x="123.0" y="184.0" width="1" height="2.1" fill="#000" fill-opacity="1"/>
<line x1="124.5" x2="124.5" y1="186.0" y2="189.3" stroke="#000" stroke-opacity="0.55" stroke-width="1"/>
<rect x="124.0" y="186.1" width="1" height="0.8" fill="#000" fill-opacity="1"/>
<line x1="125.5" x2="125.5" y1="175.2" y2="187.0" stroke="#000" stroke-opacity="0.4" stroke-width="1"/>
<rect x="125.0" y="179.3" width="1" height="7.3" fill="#000" fill-opacity="0.45"/>
<line x1="126.5" x2="126.5" y1="175.0" y2="198.0" stroke="#000" stroke-opacity="0.4" stroke-width="1"/>
<rect x="126.0" y="178.2" width="1" height="1.2" fill="#000" fill-opacity="0.45"/>
<line x1="127.5" x2="127.5" y1="175.0" y2="188.5" stroke="#000" stroke-opacity="0.55" stroke-width="1"/>
<rect x="127.0" y="178.2" width="1" height="2.6" fill="#000" fill-opacity="1"/>
<line x1="128.5" x2="128.5" y1="170.3" y2="204.0" stroke="#000" stroke-opacity="0.55" stroke-width="1"/>
<rect x="128.0" y="180.8" width="1" height="12.2" fill="#000" fill-opacity="1"/>
<line x1="129.5" x2="129.5" y1="165.0" y2="197.9" stroke="#000" stroke-opacity="0.4" stroke-width="1"/>
<rect x="129.0" y="191.0" width="1" height="1.9" fill="#000" fill-opacity="0.45"/>
<line x1="130.5" x2="130.5" y1="185.5" y2="204.0" stroke="#000" stroke-opacity="0.4" stroke-width="1"/>
<rect x="130.0" y="188.0" width="1" height="3.0" fill="#000" fill-opacity="0.45"/>
<line x1="131.5" x2="131.5" y1="165.7" y2="195.6" stroke="#000" stroke-opacity="0.4" stroke-width="1"/>
<rect x="131.0" y="174.8" width="1" height="13.3" fill="#000" fill-opacity="0.45"/>
<line x1="132.5" x2="132.5" y1="166.2" y2="178.0" stroke="#000" stroke-opacity="0.4" stroke-width="1"/>
<rect x="132.0" y="172.2" width="1" height="2.5" fill="#000" fill-opacity="0.45"/>
<line x1="133.5" x2="133.5" y1="162.5" y2="174.6" stroke="#000" stroke-opacity="0.4" stroke-width="1"/>
<rect x="133.0" y="169.7" width="1" height="2.5" fill="#000" fill-opacity="0.45"/>
<line x1="134.5" x2="134.5" y1="156.9" y2="173.4" stroke="#000" stroke-opacity="0.4" stroke-width="1"/>
<rect x="134.0" y="158.3" width="1" height="11.4" fill="#000" fill-opacity="0.45"/>
<line x1="135.5" x2="135.5" y1="155.0" y2="165.4" stroke="#000" stroke-opacity="0.55" stroke-width="1"/>
<rect x="135.0" y="158.3" width="1" height="1.3" fill="#000" fill-opacity="1"/>
<line x1="136.5" x2="136.5" y1="155.0" y2="178.0" stroke="#000" stroke-opacity="0.55" stroke-width="1"/>
<rect x="136.0" y="159.6" width="1" height="9.1" fill="#000" fill-opacity="1"/>
<line x1="137.5" x2="137.5" y1="155.0" y2="177.0" stroke="#000" stroke-opacity="0.4" stroke-width="1"/>
<rect x="137.0" y="166.3" width="1" height="2.4" fill="#000" fill-opacity="0.45"/>
<line x1="138.5" x2="138.5" y1="155.5" y2="171.9" stroke="#000" stroke-opacity="0.4" stroke-width="1"/>
<rect x="138.0" y="160.8" width="1" height="5.6" fill="#000" fill-opacity="0.45"/>
<line x1="139.5" x2="139.5" y1="104.0" y2="136.0" stroke="#000" stroke-opacity="0.4" stroke-width="1"/>
<rect x="139.0" y="109.4" width="1" height="25.0" fill="#000" fill-opacity="0.45"/>
<line x1="139.5" x2="139.5" y1="104.0" y2="120.2" stroke="#000" stroke-opacity="0.55" stroke-width="1"/>
<rect x="139.0" y="109.4" width="1" height="0.8" fill="#000" fill-opacity="1"/>
<line x1="140.5" x2="140.5" y1="104.0" y2="126.9" stroke="#000" stroke-opacity="0.55" stroke-width="1"/>
<rect x="140.0" y="109.7" width="1" height="3.2" fill="#000" fill-opacity="1"/>
<line x1="141.5" x2="141.5" y1="107.3" y2="126.8" stroke="#000" stroke-opacity="0.55" stroke-width="1"/>
<rect x="141.0" y="112.8" width="1" height="7.0" fill="#000" fill-opacity="1"/>
<line x1="142.5" x2="142.5" y1="108.8" y2="136.0" stroke="#000" stroke-opacity="0.55" stroke-width="1"/>
<rect x="142.0" y="119.9" width="1" height="8.1" fill="#000" fill-opacity="1"/>
<line x1="143.5" x2="143.5" y1="130.0" y2="148.0" stroke="#000" stroke-opacity="0.55" stroke-width="1"/>
<rect x="143.0" y="130.9" width="1" height="9.5" fill="#000" fill-opacity="1"/>
<line x1="144.5" x2="144.5" y1="135.3" y2="142.7" stroke="#000" stroke-opacity="0.55" stroke-width="1"/>
<rect x="144.0" y="140.4" width="1" height="1.3" fill="#000" fill-opacity="1"/>
<line x1="145.5" x2="145.5" y1="130.0" y2="148.0" stroke="#000" stroke-opacity="0.4" stroke-width="1"/>
<rect x="145.0" y="138.8" width="1" height="2.9" fill="#000" fill-opacity="0.45"/>
<line x1="146.5" x2="146.5" y1="131.8" y2="142.7" stroke="#000" stroke-opacity="0.4" stroke-width="1"/>
<rect x="146.0" y="133.5" width="1" height="5.2" fill="#000" fill-opacity="0.45"/>
<line x1="147.5" x2="147.5" y1="131.2" y2="145.6" stroke="#000" stroke-opacity="0.55" stroke-width="1"/>
<rect x="147.0" y="133.5" width="1" height="8.3" fill="#000" fill-opacity="1"/>
<line x1="148.5" x2="148.5" y1="130.0" y2="146.3" stroke="#000" stroke-opacity="0.4" stroke-width="1"/>
<rect x="148.0" y="134.5" width="1" height="7.4" fill="#000" fill-opacity="0.45"/>
<line x1="149.5" x2="149.5" y1="134.3" y2="141.0" stroke="#000" stroke-opacity="0.55" stroke-width="1"/>
<rect x="149.0" y="134.5" width="1" height="2.5" fill="#000" fill-opacity="1"/>
<line x1="150.5" x2="150.5" y1="124.4" y2="141.0" stroke="#000" stroke-opacity="0.4" stroke-width="1"/>
<rect x="150.0" y="134.8" width="1" height="2.1" fill="#000" fill-opacity="0.45"/>
<line x1="151.5" x2="151.5" y1="122.5" y2="141.0" stroke="#000" stroke-opacity="0.4" stroke-width="1"/>
<rect x="151.0" y="124.8" width="1" height="10.1" fill="#000" fill-opacity="0.45"/>
<line x1="152.5" x2="152.5" y1="117.4" y2="126.3" stroke="#000" stroke-opacity="0.4" stroke-width="1"/>
<rect x="152.0" y="123.7" width="1" height="1.1" fill="#000" fill-opacity="0.45"/>
<line x1="153.5" x2="153.5" y1="117.0" y2="136.4" stroke="#000" stroke-opacity="0.55" stroke-width="1"/>
<rect x="153.0" y="123.7" width="1" height="11.3" fill="#000" fill-opacity="1"/>
<line x1="154.5" x2="154.5" y1="133.0" y2="149.2" stroke="#000" stroke-opacity="0.55" stroke-width="1"/>
<rect x="154.0" y="135.0" width="1" height="12.3" fill="#000" fill-opacity="1"/>
<line x1="155.5" x2="155.5" y1="143.4" y2="147.6" stroke="#000" stroke-opacity="0.55" stroke-width="1"/>
<rect x="155.0" y="147.3" width="1" height="0.8" fill="#000" fill-opacity="1"/>
<line x1="156.5" x2="156.5" y1="133.0" y2="151.0" stroke="#000" stroke-opacity="0.4" stroke-width="1"/>
<rect x="156.0" y="135.2" width="1" height="12.2" fill="#000" fill-opacity="0.45"/>
<line x1="157.5" x2="157.5" y1="134.1" y2="142.1" stroke="#000" stroke-opacity="0.55" stroke-width="1"/>
<rect x="157.0" y="135.2" width="1" height="4.1" fill="#000" fill-opacity="1"/>
<line x1="158.5" x2="158.5" y1="133.0" y2="139.5" stroke="#000" stroke-opacity="0.55" stroke-width="1"/>
<rect x="158.0" y="139.3" width="1" height="0.8" fill="#000" fill-opacity="1"/>
<line x1="159.5" x2="159.5" y1="133.0" y2="146.4" stroke="#000" stroke-opacity="0.55" stroke-width="1"/>
<rect x="159.0" y="139.5" width="1" height="5.9" fill="#000" fill-opacity="1"/>
<line x1="160.5" x2="160.5" y1="139.7" y2="151.0" stroke="#000" stroke-opacity="0.55" stroke-width="1"/>
<rect x="160.0" y="145.4" width="1" height="1.1" fill="#000" fill-opacity="1"/>
<line x1="161.5" x2="161.5" y1="139.4" y2="178.0" stroke="#000" stroke-opacity="0.55" stroke-width="1"/>
<rect x="161.0" y="146.5" width="1" height="7.6" fill="#000" fill-opacity="1"/>
<line x1="162.5" x2="162.5" y1="138.0" y2="175.7" stroke="#000" stroke-opacity="0.55" stroke-width="1"/>
<rect x="162.0" y="154.1" width="1" height="13.9" fill="#000" fill-opacity="1"/>
<line x1="163.5" x2="163.5" y1="167.6" y2="175.0" stroke="#000" stroke-opacity="0.55" stroke-width="1"/>
<rect x="163.0" y="168.0" width="1" height="1.3" fill="#000" fill-opacity="1"/>
<line x1="164.5" x2="164.5" y1="168.1" y2="182.0" stroke="#000" stroke-opacity="0.55" stroke-width="1"/>
<rect x="164.0" y="169.3" width="1" height="5.1" fill="#000" fill-opacity="1"/>
<line x1="165.5" x2="165.5" y1="168.9" y2="181.1" stroke="#000" stroke-opacity="0.4" stroke-width="1"/>
<rect x="165.0" y="171.6" width="1" height="2.9" fill="#000" fill-opacity="0.45"/>
<line x1="166.5" x2="166.5" y1="167.9" y2="176.9" stroke="#000" stroke-opacity="0.55" stroke-width="1"/>
<rect x="166.0" y="171.6" width="1" height="5.0" fill="#000" fill-opacity="1"/>
<line x1="167.5" x2="167.5" y1="172.9" y2="182.0" stroke="#000" stroke-opacity="0.4" stroke-width="1"/>
<rect x="167.0" y="176.3" width="1" height="0.8" fill="#000" fill-opacity="0.45"/>
<line x1="168.5" x2="168.5" y1="171.5" y2="182.0" stroke="#000" stroke-opacity="0.4" stroke-width="1"/>
<rect x="168.0" y="173.3" width="1" height="3.0" fill="#000" fill-opacity="0.45"/>
<line x1="169.5" x2="169.5" y1="163.0" y2="182.0" stroke="#000" stroke-opacity="0.55" stroke-width="1"/>
<rect x="169.0" y="173.3" width="1" height="5.5" fill="#000" fill-opacity="1"/>
<line x1="170.5" x2="170.5" y1="163.0" y2="182.0" stroke="#000" stroke-opacity="0.4" stroke-width="1"/>
<rect x="170.0" y="167.3" width="1" height="11.5" fill="#000" fill-opacity="0.45"/>
<line x1="171.5" x2="171.5" y1="163.0" y2="169.2" stroke="#000" stroke-opacity="0.55" stroke-width="1"/>
<rect x="171.0" y="167.3" width="1" height="0.8" fill="#000" fill-opacity="1"/>
<line x1="171.5" x2="171.5" y1="143.5" y2="163.0" stroke="#000" stroke-opacity="0.4" stroke-width="1"/>
<rect x="171.0" y="146.4" width="1" height="15.4" fill="#000" fill-opacity="0.45"/>
<line x1="172.5" x2="172.5" y1="141.8" y2="156.1" stroke="#000" stroke-opacity="0.55" stroke-width="1"/>
<rect x="172.0" y="146.4" width="1" height="7.1" fill="#000" fill-opacity="1"/>
<line x1="173.5" x2="173.5" y1="138.0" y2="154.8" stroke="#000" stroke-opacity="0.4" stroke-width="1"/>
<rect x="173.0" y="144.2" width="1" height="9.2" fill="#000" fill-opacity="0.45"/>
<line x1="174.5" x2="174.5" y1="110.0" y2="141.0" stroke="#000" stroke-opacity="0.4" stroke-width="1"/>
<rect x="174.0" y="115.5" width="1" height="24.0" fill="#000" fill-opacity="0.45"/>
<line x1="175.5" x2="175.5" y1="110.0" y2="131.3" stroke="#000" stroke-opacity="0.55" stroke-width="1"/>
<rect x="175.0" y="115.5" width="1" height="11.2" fill="#000" fill-opacity="1"/>
<line x1="176.5" x2="176.5" y1="110.0" y2="141.0" stroke="#000" stroke-opacity="0.55" stroke-width="1"/>
<rect x="176.0" y="126.7" width="1" height="4.9" fill="#000" fill-opacity="1"/>
<line x1="177.5" x2="177.5" y1="117.0" y2="139.4" stroke="#000" stroke-opacity="0.4" stroke-width="1"/>
<rect x="177.0" y="119.5" width="1" height="12.1" fill="#000" fill-opacity="0.45"/>
<line x1="178.5" x2="178.5" y1="114.3" y2="132.5" stroke="#000" stroke-opacity="0.55" stroke-width="1"/>
<rect x="178.0" y="119.5" width="1" height="1.8" fill="#000" fill-opacity="1"/>
<line x1="179.5" x2="179.5" y1="118.2" y2="133.4" stroke="#000" stroke-opacity="0.4" stroke-width="1"/>
<rect x="179.0" y="118.5" width="1" height="2.8" fill="#000" fill-opacity="0.45"/>
<line x1="180.5" x2="180.5" y1="110.0" y2="136.2" stroke="#000" stroke-opacity="0.55" stroke-width="1"/>
<rect x="180.0" y="118.5" width="1" height="14.8" fill="#000" fill-opacity="1"/>
<line x1="181.5" x2="181.5" y1="115.0" y2="154.0" stroke="#000" stroke-opacity="0.55" stroke-width="1"/>
<rect x="181.0" y="133.2" width="1" height="10.1" fill="#000" fill-opacity="1"/>
<line x1="182.5" x2="182.5" y1="118.5" y2="156.0" stroke="#000" stroke-opacity="0.4" stroke-width="1"/>
<rect x="182.0" y="131.1" width="1" height="12.2" fill="#000" fill-opacity="0.45"/>
<line x1="183.5" x2="183.5" y1="115.5" y2="146.3" stroke="#000" stroke-opacity="0.55" stroke-width="1"/>
<rect x="183.0" y="131.1" width="1" height="13.4" fill="#000" fill-opacity="1"/>
<line x1="184.5" x2="184.5" y1="137.5" y2="156.0" stroke="#000" stroke-opacity="0.55" stroke-width="1"/>
<rect x="184.0" y="144.5" width="1" height="3.3" fill="#000" fill-opacity="1"/>
<line x1="185.5" x2="185.5" y1="119.5" y2="156.0" stroke="#000" stroke-opacity="0.4" stroke-width="1"/>
<rect x="185.0" y="125.2" width="1" height="22.6" fill="#000" fill-opacity="0.45"/>
<line x1="186.5" x2="186.5" y1="115.0" y2="134.5" stroke="#000" stroke-opacity="0.4" stroke-width="1"/>
<rect x="186.0" y="118.3" width="1" height="6.9" fill="#000" fill-opacity="0.45"/>
<line x1="187.5" x2="187.5" y1="115.0" y2="126.0" stroke="#000" stroke-opacity="0.55" stroke-width="1"/>
<rect x="187.0" y="118.3" width="1" height="7.7" fill="#000" fill-opacity="1"/>
<line x1="188.5" x2="188.5" y1="115.0" y2="134.6" stroke="#000" stroke-opacity="0.4" stroke-width="1"/>
<rect x="188.0" y="124.6" width="1" height="1.4" fill="#000" fill-opacity="0.45"/>
<line x1="189.5" x2="189.5" y1="115.0" y2="135.3" stroke="#000" stroke-opacity="0.55" stroke-width="1"/>
<rect x="189.0" y="124.6" width="1" height="8.1" fill="#000" fill-opacity="1"/>
<line x1="190.5" x2="190.5" y1="118.1" y2="138.0" stroke="#000" stroke-opacity="0.4" stroke-width="1"/>
<rect x="190.0" y="119.7" width="1" height="13.0" fill="#000" fill-opacity="0.45"/>
<line x1="191.5" x2="191.5" y1="115.0" y2="137.2" stroke="#000" stroke-opacity="0.55" stroke-width="1"/>
<rect x="191.0" y="119.7" width="1" height="10.0" fill="#000" fill-opacity="1"/>
<line x1="192.5" x2="192.5" y1="121.2" y2="134.4" stroke="#000" stroke-opacity="0.4" stroke-width="1"/>
<rect x="192.0" y="129.1" width="1" height="0.8" fill="#000" fill-opacity="0.45"/>
<line x1="193.5" x2="193.5" y1="127.0" y2="137.2" stroke="#000" stroke-opacity="0.4" stroke-width="1"/>
<rect x="193.0" y="127.4" width="1" height="1.7" fill="#000" fill-opacity="0.45"/>
<line x1="194.5" x2="194.5" y1="115.0" y2="134.1" stroke="#000" stroke-opacity="0.4" stroke-width="1"/>
<rect x="194.0" y="121.8" width="1" height="5.6" fill="#000" fill-opacity="0.45"/>
<line x1="195.5" x2="195.5" y1="120.5" y2="125.7" stroke="#000" stroke-opacity="0.55" stroke-width="1"/>
<rect x="195.0" y="121.8" width="1" height="1.2" fill="#000" fill-opacity="1"/>
<line x1="196.5" x2="196.5" y1="115.0" y2="124.2" stroke="#000" stroke-opacity="0.4" stroke-width="1"/>
<rect x="196.0" y="120.8" width="1" height="2.3" fill="#000" fill-opacity="0.45"/>
<line x1="197.5" x2="197.5" y1="94.4" y2="110.0" stroke="#000" stroke-opacity="0.4" stroke-width="1"/>
<rect x="197.0" y="99.9" width="1" height="9.1" fill="#000" fill-opacity="0.45"/>
<line x1="198.5" x2="198.5" y1="89.4" y2="100.0" stroke="#000" stroke-opacity="0.4" stroke-width="1"/>
<rect x="198.0" y="95.1" width="1" height="4.8" fill="#000" fill-opacity="0.45"/>
<line x1="199.5" x2="199.5" y1="90.7" y2="105.4" stroke="#000" stroke-opacity="0.55" stroke-width="1"/>
<rect x="199.0" y="95.1" width="1" height="1.2" fill="#000" fill-opacity="1"/>
<line x1="200.5" x2="200.5" y1="89.0" y2="106.3" stroke="#000" stroke-opacity="0.55" stroke-width="1"/>
<rect x="200.0" y="96.3" width="1" height="5.5" fill="#000" fill-opacity="1"/>
<line x1="201.5" x2="201.5" y1="92.9" y2="110.0" stroke="#000" stroke-opacity="0.4" stroke-width="1"/>
<rect x="201.0" y="95.3" width="1" height="6.5" fill="#000" fill-opacity="0.45"/>
<line x1="202.5" x2="202.5" y1="92.4" y2="110.0" stroke="#000" stroke-opacity="0.55" stroke-width="1"/>
<rect x="202.0" y="95.3" width="1" height="9.5" fill="#000" fill-opacity="1"/>
<line x1="203.5" x2="203.5" y1="103.6" y2="137.3" stroke="#000" stroke-opacity="0.55" stroke-width="1"/>
<rect x="203.0" y="105.4" width="1" height="27.0" fill="#000" fill-opacity="1"/>
<line x1="203.5" x2="203.5" y1="103.0" y2="151.0" stroke="#000" stroke-opacity="0.55" stroke-width="1"/>
<rect x="203.0" y="132.4" width="1" height="6.6" fill="#000" fill-opacity="1"/>
<line x1="204.5" x2="204.5" y1="133.1" y2="163.0" stroke="#000" stroke-opacity="0.55" stroke-width="1"/>
<rect x="204.0" y="139.0" width="1" height="4.0" fill="#000" fill-opacity="1"/>
<line x1="205.5" x2="205.5" y1="130.0" y2="144.0" stroke="#000" stroke-opacity="0.4" stroke-width="1"/>
<rect x="205.0" y="141.3" width="1" height="1.8" fill="#000" fill-opacity="0.45"/>
<line x1="206.5" x2="206.5" y1="130.0" y2="157.8" stroke="#000" stroke-opacity="0.55" stroke-width="1"/>
<rect x="206.0" y="141.3" width="1" height="5.1" fill="#000" fill-opacity="1"/>
<line x1="207.5" x2="207.5" y1="139.5" y2="158.7" stroke="#000" stroke-opacity="0.55" stroke-width="1"/>
<rect x="207.0" y="146.4" width="1" height="8.4" fill="#000" fill-opacity="1"/>
<line x1="208.5" x2="208.5" y1="146.9" y2="173.5" stroke="#000" stroke-opacity="0.55" stroke-width="1"/>
<rect x="208.0" y="154.8" width="1" height="15.8" fill="#000" fill-opacity="1"/>
<line x1="209.5" x2="209.5" y1="144.6" y2="176.0" stroke="#000" stroke-opacity="0.4" stroke-width="1"/>
<rect x="209.0" y="151.1" width="1" height="19.4" fill="#000" fill-opacity="0.45"/>
<line x1="210.5" x2="210.5" y1="148.8" y2="176.0" stroke="#000" stroke-opacity="0.55" stroke-width="1"/>
<rect x="210.0" y="151.1" width="1" height="19.3" fill="#000" fill-opacity="1"/>
<line x1="211.5" x2="211.5" y1="141.0" y2="172.7" stroke="#000" stroke-opacity="0.4" stroke-width="1"/>
<rect x="211.0" y="150.9" width="1" height="19.6" fill="#000" fill-opacity="0.45"/>
<line x1="212.5" x2="212.5" y1="145.6" y2="157.1" stroke="#000" stroke-opacity="0.4" stroke-width="1"/>
<rect x="212.0" y="146.6" width="1" height="4.3" fill="#000" fill-opacity="0.45"/>
<line x1="213.5" x2="213.5" y1="141.0" y2="176.0" stroke="#000" stroke-opacity="0.55" stroke-width="1"/>
<rect x="213.0" y="146.6" width="1" height="22.5" fill="#000" fill-opacity="1"/>
<line x1="214.5" x2="214.5" y1="154.4" y2="176.0" stroke="#000" stroke-opacity="0.55" stroke-width="1"/>
<rect x="214.0" y="169.1" width="1" height="2.6" fill="#000" fill-opacity="1"/>
<line x1="215.5" x2="215.5" y1="141.0" y2="176.0" stroke="#000" stroke-opacity="0.4" stroke-width="1"/>
<rect x="215.0" y="150.1" width="1" height="21.6" fill="#000" fill-opacity="0.45"/>
<line x1="216.5" x2="216.5" y1="141.0" y2="156.1" stroke="#000" stroke-opacity="0.4" stroke-width="1"/>
<rect x="216.0" y="149.8" width="1" height="0.8" fill="#000" fill-opacity="0.45"/>
<line x1="217.5" x2="217.5" y1="133.0" y2="150.6" stroke="#000" stroke-opacity="0.4" stroke-width="1"/>
<rect x="217.0" y="143.5" width="1" height="6.3" fill="#000" fill-opacity="0.45"/>
<line x1="218.5" x2="218.5" y1="133.0" y2="152.7" stroke="#000" stroke-opacity="0.4" stroke-width="1"/>
<rect x="218.0" y="137.2" width="1" height="6.3" fill="#000" fill-opacity="0.45"/>
<line x1="219.5" x2="219.5" y1="133.0" y2="149.5" stroke="#000" stroke-opacity="0.55" stroke-width="1"/>
<rect x="219.0" y="137.2" width="1" height="8.4" fill="#000" fill-opacity="1"/>
<line x1="220.5" x2="220.5" y1="142.4" y2="156.0" stroke="#000" stroke-opacity="0.55" stroke-width="1"/>
<rect x="220.0" y="145.6" width="1" height="3.6" fill="#000" fill-opacity="1"/>
<line x1="221.5" x2="221.5" y1="133.0" y2="156.0" stroke="#000" stroke-opacity="0.4" stroke-width="1"/>
<rect x="221.0" y="137.3" width="1" height="11.9" fill="#000" fill-opacity="0.45"/>
<line x1="222.5" x2="222.5" y1="133.0" y2="148.6" stroke="#000" stroke-opacity="0.55" stroke-width="1"/>
<rect x="222.0" y="137.3" width="1" height="7.9" fill="#000" fill-opacity="1"/>
<line x1="223.5" x2="223.5" y1="140.3" y2="155.2" stroke="#000" stroke-opacity="0.55" stroke-width="1"/>
<rect x="223.0" y="145.2" width="1" height="3.4" fill="#000" fill-opacity="1"/>
<line x1="224.5" x2="224.5" y1="133.6" y2="152.8" stroke="#000" stroke-opacity="0.4" stroke-width="1"/>
<rect x="224.0" y="140.1" width="1" height="8.6" fill="#000" fill-opacity="0.45"/>
<line x1="225.5" x2="225.5" y1="133.9" y2="148.4" stroke="#000" stroke-opacity="0.4" stroke-width="1"/>
<rect x="225.0" y="138.8" width="1" height="1.3" fill="#000" fill-opacity="0.45"/>
<line x1="226.5" x2="226.5" y1="108.0" y2="141.0" stroke="#000" stroke-opacity="0.4" stroke-width="1"/>
<rect x="226.0" y="116.8" width="1" height="21.9" fill="#000" fill-opacity="0.45"/>
<line x1="227.5" x2="227.5" y1="111.9" y2="135.2" stroke="#000" stroke-opacity="0.55" stroke-width="1"/>
<rect x="227.0" y="116.8" width="1" height="4.2" fill="#000" fill-opacity="1"/>
<line x1="228.5" x2="228.5" y1="108.0" y2="131.3" stroke="#000" stroke-opacity="0.4" stroke-width="1"/>
<rect x="228.0" y="113.1" width="1" height="8.0" fill="#000" fill-opacity="0.45"/>
<line x1="229.5" x2="229.5" y1="108.6" y2="127.0" stroke="#000" stroke-opacity="0.55" stroke-width="1"/>
<rect x="229.0" y="113.1" width="1" height="3.2" fill="#000" fill-opacity="1"/>
<line x1="230.5" x2="230.5" y1="115.1" y2="126.0" stroke="#000" stroke-opacity="0.55" stroke-width="1"/>
<rect x="230.0" y="116.2" width="1" height="3.9" fill="#000" fill-opacity="1"/>
<line x1="231.5" x2="231.5" y1="103.0" y2="126.0" stroke="#000" stroke-opacity="0.4" stroke-width="1"/>
<rect x="231.0" y="113.9" width="1" height="6.3" fill="#000" fill-opacity="0.45"/>
<line x1="232.5" x2="232.5" y1="105.5" y2="126.0" stroke="#000" stroke-opacity="0.55" stroke-width="1"/>
<rect x="232.0" y="113.9" width="1" height="7.8" fill="#000" fill-opacity="1"/>
<line x1="233.5" x2="233.5" y1="114.3" y2="126.0" stroke="#000" stroke-opacity="0.4" stroke-width="1"/>
<rect x="233.0" y="114.4" width="1" height="7.3" fill="#000" fill-opacity="0.45"/>
<line x1="234.5" x2="234.5" y1="103.0" y2="116.0" stroke="#000" stroke-opacity="0.4" stroke-width="1"/>
<rect x="234.0" y="108.8" width="1" height="5.7" fill="#000" fill-opacity="0.45"/>
<line x1="235.5" x2="235.5" y1="99.2" y2="110.0" stroke="#000" stroke-opacity="0.4" stroke-width="1"/>
<rect x="235.0" y="104.4" width="1" height="4.4" fill="#000" fill-opacity="0.45"/>
<line x1="236.5" x2="236.5" y1="93.6" y2="110.0" stroke="#000" stroke-opacity="0.4" stroke-width="1"/>
<rect x="236.0" y="99.3" width="1" height="5.0" fill="#000" fill-opacity="0.45"/>
<line x1="236.5" x2="236.5" y1="86.5" y2="106.6" stroke="#000" stroke-opacity="0.4" stroke-width="1"/>
<rect x="236.0" y="91.0" width="1" height="8.3" fill="#000" fill-opacity="0.45"/>
<line x1="237.5" x2="237.5" y1="85.0" y2="99.0" stroke="#000" stroke-opacity="0.55" stroke-width="1"/>
<rect x="237.0" y="91.0" width="1" height="6.1" fill="#000" fill-opacity="1"/>
<line x1="238.5" x2="238.5" y1="94.9" y2="98.0" stroke="#000" stroke-opacity="0.4" stroke-width="1"/>
<rect x="238.0" y="96.1" width="1" height="1.0" fill="#000" fill-opacity="0.45"/>
<line x1="239.5" x2="239.5" y1="93.8" y2="104.6" stroke="#000" stroke-opacity="0.55" stroke-width="1"/>
<rect x="239.0" y="96.1" width="1" height="3.8" fill="#000" fill-opacity="1"/>
<line x1="240.5" x2="240.5" y1="88.9" y2="108.7" stroke="#000" stroke-opacity="0.55" stroke-width="1"/>
<rect x="240.0" y="99.9" width="1" height="6.9" fill="#000" fill-opacity="1"/>
<line x1="241.5" x2="241.5" y1="98.6" y2="110.0" stroke="#000" stroke-opacity="0.4" stroke-width="1"/>
<rect x="241.0" y="103.8" width="1" height="3.0" fill="#000" fill-opacity="0.45"/>
<line x1="242.5" x2="242.5" y1="100.7" y2="114.3" stroke="#000" stroke-opacity="0.55" stroke-width="1"/>
<rect x="242.0" y="103.8" width="1" height="7.6" fill="#000" fill-opacity="1"/>
<line x1="243.5" x2="243.5" y1="95.0" y2="114.1" stroke="#000" stroke-opacity="0.4" stroke-width="1"/>
<rect x="243.0" y="102.4" width="1" height="9.0" fill="#000" fill-opacity="0.45"/>
<line x1="244.5" x2="244.5" y1="98.8" y2="118.0" stroke="#000" stroke-opacity="0.4" stroke-width="1"/>
<rect x="244.0" y="100.8" width="1" height="1.7" fill="#000" fill-opacity="0.45"/>
<line x1="245.5" x2="245.5" y1="71.0" y2="104.6" stroke="#000" stroke-opacity="0.4" stroke-width="1"/>
<rect x="245.0" y="79.9" width="1" height="20.8" fill="#000" fill-opacity="0.45"/>
<line x1="246.5" x2="246.5" y1="71.9" y2="105.0" stroke="#000" stroke-opacity="0.55" stroke-width="1"/>
<rect x="246.0" y="79.9" width="1" height="1.5" fill="#000" fill-opacity="1"/>
<line x1="247.5" x2="247.5" y1="74.3" y2="97.1" stroke="#000" stroke-opacity="0.55" stroke-width="1"/>
<rect x="247.0" y="81.4" width="1" height="15.1" fill="#000" fill-opacity="1"/>
<line x1="248.5" x2="248.5" y1="98.0" y2="141.0" stroke="#000" stroke-opacity="0.55" stroke-width="1"/>
<rect x="248.0" y="100.2" width="1" height="31.9" fill="#000" fill-opacity="1"/>
<line x1="249.5" x2="249.5" y1="98.4" y2="136.5" stroke="#000" stroke-opacity="0.4" stroke-width="1"/>
<rect x="249.0" y="115.4" width="1" height="16.6" fill="#000" fill-opacity="0.45"/>
<line x1="250.5" x2="250.5" y1="103.8" y2="141.0" stroke="#000" stroke-opacity="0.55" stroke-width="1"/>
<rect x="250.0" y="115.4" width="1" height="14.9" fill="#000" fill-opacity="1"/>
<line x1="251.5" x2="251.5" y1="113.3" y2="134.9" stroke="#000" stroke-opacity="0.4" stroke-width="1"/>
<rect x="251.0" y="122.3" width="1" height="8.0" fill="#000" fill-opacity="0.45"/>
<line x1="252.5" x2="252.5" y1="113.0" y2="132.1" stroke="#000" stroke-opacity="0.4" stroke-width="1"/>
<rect x="252.0" y="120.3" width="1" height="2.0" fill="#000" fill-opacity="0.45"/>
<line x1="253.5" x2="253.5" y1="113.0" y2="136.0" stroke="#000" stroke-opacity="0.4" stroke-width="1"/>
<rect x="253.0" y="117.6" width="1" height="2.7" fill="#000" fill-opacity="0.45"/>
<line x1="254.5" x2="254.5" y1="113.8" y2="131.7" stroke="#000" stroke-opacity="0.55" stroke-width="1"/>
<rect x="254.0" y="117.6" width="1" height="12.6" fill="#000" fill-opacity="1"/>
<line x1="255.5" x2="255.5" y1="131.0" y2="140.5" stroke="#000" stroke-opacity="0.55" stroke-width="1"/>
<rect x="255.0" y="131.8" width="1" height="1.7" fill="#000" fill-opacity="1"/>
<line x1="256.5" x2="256.5" y1="131.0" y2="146.7" stroke="#000" stroke-opacity="0.55" stroke-width="1"/>
<rect x="256.0" y="133.5" width="1" height="10.0" fill="#000" fill-opacity="1"/>
<line x1="257.5" x2="257.5" y1="133.1" y2="148.0" stroke="#000" stroke-opacity="0.4" stroke-width="1"/>
<rect x="257.0" y="137.8" width="1" height="5.7" fill="#000" fill-opacity="0.45"/>
<line x1="258.5" x2="258.5" y1="131.0" y2="141.5" stroke="#000" stroke-opacity="0.4" stroke-width="1"/>
<rect x="258.0" y="133.4" width="1" height="4.4" fill="#000" fill-opacity="0.45"/>
<line x1="259.5" x2="259.5" y1="131.0" y2="143.4" stroke="#000" stroke-opacity="0.55" stroke-width="1"/>
<rect x="259.0" y="133.4" width="1" height="4.9" fill="#000" fill-opacity="1"/>
<line x1="260.5" x2="260.5" y1="131.0" y2="143.3" stroke="#000" stroke-opacity="0.4" stroke-width="1"/>
<rect x="260.0" y="135.0" width="1" height="3.3" fill="#000" fill-opacity="0.45"/>
<line x1="261.5" x2="261.5" y1="133.0" y2="148.0" stroke="#000" stroke-opacity="0.55" stroke-width="1"/>
<rect x="261.0" y="135.0" width="1" height="8.7" fill="#000" fill-opacity="1"/>
<line x1="262.5" x2="262.5" y1="143.3" y2="153.5" stroke="#000" stroke-opacity="0.55" stroke-width="1"/>
<rect x="262.0" y="143.8" width="1" height="3.0" fill="#000" fill-opacity="1"/>
<line x1="263.5" x2="263.5" y1="138.0" y2="158.0" stroke="#000" stroke-opacity="0.55" stroke-width="1"/>
<rect x="263.0" y="146.8" width="1" height="7.1" fill="#000" fill-opacity="1"/>
<line x1="264.5" x2="264.5" y1="144.8" y2="158.0" stroke="#000" stroke-opacity="0.4" stroke-width="1"/>
<rect x="264.0" y="152.1" width="1" height="1.8" fill="#000" fill-opacity="0.45"/>
<line x1="265.5" x2="265.5" y1="142.7" y2="158.0" stroke="#000" stroke-opacity="0.4" stroke-width="1"/>
<rect x="265.0" y="146.3" width="1" height="5.7" fill="#000" fill-opacity="0.45"/>
<line x1="266.5" x2="266.5" y1="144.9" y2="148.0" stroke="#000" stroke-opacity="0.55" stroke-width="1"/>
<rect x="266.0" y="146.3" width="1" height="0.8" fill="#000" fill-opacity="1"/>
<line x1="267.5" x2="267.5" y1="141.8" y2="156.3" stroke="#000" stroke-opacity="0.55" stroke-width="1"/>
<rect x="267.0" y="147.0" width="1" height="6.0" fill="#000" fill-opacity="1"/>
<line x1="268.5" x2="268.5" y1="146.0" y2="157.9" stroke="#000" stroke-opacity="0.4" stroke-width="1"/>
<rect x="268.0" y="148.2" width="1" height="4.8" fill="#000" fill-opacity="0.45"/>
<line x1="268.5" x2="268.5" y1="146.0" y2="163.0" stroke="#000" stroke-opacity="0.55" stroke-width="1"/>
<rect x="268.0" y="148.2" width="1" height="11.6" fill="#000" fill-opacity="1"/>
<line x1="269.5" x2="269.5" y1="149.0" y2="163.0" stroke="#000" stroke-opacity="0.4" stroke-width="1"/>
<rect x="269.0" y="152.8" width="1" height="7.0" fill="#000" fill-opacity="0.45"/>
<line x1="270.5" x2="270.5" y1="147.7" y2="159.9" stroke="#000" stroke-opacity="0.4" stroke-width="1"/>
<rect x="270.0" y="151.7" width="1" height="1.1" fill="#000" fill-opacity="0.45"/>
<line x1="271.5" x2="271.5" y1="147.9" y2="163.0" stroke="#000" stroke-opacity="0.55" stroke-width="1"/>
<rect x="271.0" y="151.7" width="1" height="7.0" fill="#000" fill-opacity="1"/>
<line x1="272.5" x2="272.5" y1="153.0" y2="175.9" stroke="#000" stroke-opacity="0.55" stroke-width="1"/>
<rect x="272.0" y="158.8" width="1" height="1.8" fill="#000" fill-opacity="1"/>
<line x1="273.5" x2="273.5" y1="159.7" y2="184.6" stroke="#000" stroke-opacity="0.55" stroke-width="1"/>
<rect x="273.0" y="160.6" width="1" height="9.5" fill="#000" fill-opacity="1"/>
<line x1="274.5" x2="274.5" y1="155.8" y2="188.0" stroke="#000" stroke-opacity="0.55" stroke-width="1"/>
<rect x="274.0" y="170.0" width="1" height="9.2" fill="#000" fill-opacity="1"/>
<line x1="275.5" x2="275.5" y1="186.0" y2="205.8" stroke="#000" stroke-opacity="0.55" stroke-width="1"/>
<rect x="275.0" y="187.1" width="1" height="14.7" fill="#000" fill-opacity="1"/>
<line x1="276.5" x2="276.5" y1="186.0" y2="208.0" stroke="#000" stroke-opacity="0.55" stroke-width="1"/>
<rect x="276.0" y="201.8" width="1" height="1.0" fill="#000" fill-opacity="1"/>
<line x1="277.5" x2="277.5" y1="198.5" y2="207.9" stroke="#000" stroke-opacity="0.4" stroke-width="1"/>
<rect x="277.0" y="202.5" width="1" height="0.8" fill="#000" fill-opacity="0.45"/>
<line x1="278.5" x2="278.5" y1="194.7" y2="208.0" stroke="#000" stroke-opacity="0.4" stroke-width="1"/>
<rect x="278.0" y="196.6" width="1" height="5.9" fill="#000" fill-opacity="0.45"/>
<line x1="279.5" x2="279.5" y1="196.3" y2="210.0" stroke="#000" stroke-opacity="0.55" stroke-width="1"/>
<rect x="279.0" y="196.6" width="1" height="10.0" fill="#000" fill-opacity="1"/>
<line x1="280.5" x2="280.5" y1="204.5" y2="210.0" stroke="#000" stroke-opacity="0.4" stroke-width="1"/>
<rect x="280.0" y="204.8" width="1" height="1.8" fill="#000" fill-opacity="0.45"/>
<line x1="281.5" x2="281.5" y1="193.0" y2="209.0" stroke="#000" stroke-opacity="0.4" stroke-width="1"/>
<rect x="281.0" y="196.6" width="1" height="8.3" fill="#000" fill-opacity="0.45"/>
<line x1="282.5" x2="282.5" y1="194.2" y2="210.0" stroke="#000" stroke-opacity="0.55" stroke-width="1"/>
<rect x="282.0" y="196.6" width="1" height="6.6" fill="#000" fill-opacity="1"/>
<line x1="283.5" x2="283.5" y1="194.0" y2="208.2" stroke="#000" stroke-opacity="0.4" stroke-width="1"/>
<rect x="283.0" y="197.2" width="1" height="5.9" fill="#000" fill-opacity="0.45"/>
<line x1="284.5" x2="284.5" y1="194.9" y2="206.0" stroke="#000" stroke-opacity="0.4" stroke-width="1"/>
<rect x="284.0" y="195.1" width="1" height="2.2" fill="#000" fill-opacity="0.45"/>
<line x1="285.5" x2="285.5" y1="192.9" y2="202.7" stroke="#000" stroke-opacity="0.55" stroke-width="1"/>
<rect x="285.0" y="195.1" width="1" height="0.8" fill="#000" fill-opacity="1"/>
<line x1="286.5" x2="286.5" y1="191.7" y2="201.9" stroke="#000" stroke-opacity="0.55" stroke-width="1"/>
<rect x="286.0" y="195.8" width="1" height="4.4" fill="#000" fill-opacity="1"/>
<line x1="287.5" x2="287.5" y1="194.6" y2="201.4" stroke="#000" stroke-opacity="0.4" stroke-width="1"/>
<rect x="287.0" y="195.6" width="1" height="4.7" fill="#000" fill-opacity="0.45"/>
<line x1="288.5" x2="288.5" y1="186.0" y2="205.0" stroke="#000" stroke-opacity="0.55" stroke-width="1"/>
<rect x="288.0" y="195.6" width="1" height="5.4" fill="#000" fill-opacity="1"/>
<line x1="289.5" x2="289.5" y1="193.0" y2="215.0" stroke="#000" stroke-opacity="0.4" stroke-width="1"/>
<rect x="289.0" y="195.6" width="1" height="5.4" fill="#000" fill-opacity="0.45"/>
<line x1="290.5" x2="290.5" y1="170.0" y2="193.0" stroke="#000" stroke-opacity="0.4" stroke-width="1"/>
<rect x="290.0" y="173.5" width="1" height="18.4" fill="#000" fill-opacity="0.45"/>
<line x1="291.5" x2="291.5" y1="170.0" y2="193.0" stroke="#000" stroke-opacity="0.55" stroke-width="1"/>
<rect x="291.0" y="173.5" width="1" height="4.8" fill="#000" fill-opacity="1"/>
<line x1="292.5" x2="292.5" y1="170.0" y2="192.7" stroke="#000" stroke-opacity="0.55" stroke-width="1"/>
<rect x="292.0" y="178.2" width="1" height="7.7" fill="#000" fill-opacity="1"/>
<line x1="293.5" x2="293.5" y1="175.5" y2="186.6" stroke="#000" stroke-opacity="0.4" stroke-width="1"/>
<rect x="293.0" y="175.8" width="1" height="10.2" fill="#000" fill-opacity="0.45"/>
<line x1="294.5" x2="294.5" y1="158.0" y2="178.0" stroke="#000" stroke-opacity="0.4" stroke-width="1"/>
<rect x="294.0" y="162.4" width="1" height="13.3" fill="#000" fill-opacity="0.45"/>
<line x1="295.5" x2="295.5" y1="158.0" y2="178.0" stroke="#000" stroke-opacity="0.55" stroke-width="1"/>
<rect x="295.0" y="162.4" width="1" height="10.3" fill="#000" fill-opacity="1"/>
<line x1="296.5" x2="296.5" y1="158.0" y2="178.0" stroke="#000" stroke-opacity="0.4" stroke-width="1"/>
<rect x="296.0" y="171.4" width="1" height="1.4" fill="#000" fill-opacity="0.45"/>
<line x1="297.5" x2="297.5" y1="160.7" y2="178.0" stroke="#000" stroke-opacity="0.4" stroke-width="1"/>
<rect x="297.0" y="163.0" width="1" height="8.4" fill="#000" fill-opacity="0.45"/>
<line x1="298.5" x2="298.5" y1="140.0" y2="153.0" stroke="#000" stroke-opacity="0.4" stroke-width="1"/>
<rect x="298.0" y="143.0" width="1" height="9.4" fill="#000" fill-opacity="0.45"/>
<line x1="299.5" x2="299.5" y1="141.4" y2="146.6" stroke="#000" stroke-opacity="0.55" stroke-width="1"/>
<rect x="299.0" y="143.0" width="1" height="0.8" fill="#000" fill-opacity="1"/>
<line x1="300.5" x2="300.5" y1="143.4" y2="145.8" stroke="#000" stroke-opacity="0.55" stroke-width="1"/>
<rect x="300.0" y="143.6" width="1" height="1.1" fill="#000" fill-opacity="1"/>
<line x1="301.5" x2="301.5" y1="140.0" y2="148.7" stroke="#000" stroke-opacity="0.4" stroke-width="1"/>
<rect x="301.0" y="143.2" width="1" height="1.6" fill="#000" fill-opacity="0.45"/>
<line x1="301.5" x2="301.5" y1="140.0" y2="153.0" stroke="#000" stroke-opacity="0.55" stroke-width="1"/>
<rect x="301.0" y="143.2" width="1" height="7.3" fill="#000" fill-opacity="1"/>
<line x1="302.5" x2="302.5" y1="140.0" y2="153.0" stroke="#000" stroke-opacity="0.4" stroke-width="1"/>
<rect x="302.0" y="142.7" width="1" height="7.7" fill="#000" fill-opacity="0.45"/>
<line x1="303.5" x2="303.5" y1="140.0" y2="146.5" stroke="#000" stroke-opacity="0.55" stroke-width="1"/>
<rect x="303.0" y="142.7" width="1" height="0.8" fill="#000" fill-opacity="1"/>
<line x1="304.5" x2="304.5" y1="134.4" y2="140.0" stroke="#000" stroke-opacity="0.4" stroke-width="1"/>
<rect x="304.0" y="135.4" width="1" height="3.5" fill="#000" fill-opacity="0.45"/>
<line x1="305.5" x2="305.5" y1="127.3" y2="140.0" stroke="#000" stroke-opacity="0.4" stroke-width="1"/>
<rect x="305.0" y="131.2" width="1" height="4.2" fill="#000" fill-opacity="0.45"/>
<line x1="306.5" x2="306.5" y1="118.0" y2="140.0" stroke="#000" stroke-opacity="0.4" stroke-width="1"/>
<rect x="306.0" y="125.1" width="1" height="6.1" fill="#000" fill-opacity="0.45"/>
<line x1="307.5" x2="307.5" y1="118.0" y2="131.0" stroke="#000" stroke-opacity="0.55" stroke-width="1"/>
<rect x="307.0" y="125.1" width="1" height="1.6" fill="#000" fill-opacity="1"/>
<line x1="308.5" x2="308.5" y1="118.0" y2="127.1" stroke="#000" stroke-opacity="0.4" stroke-width="1"/>
<rect x="308.0" y="123.5" width="1" height="3.2" fill="#000" fill-opacity="0.45"/>
<line x1="309.5" x2="309.5" y1="106.0" y2="131.0" stroke="#000" stroke-opacity="0.4" stroke-width="1"/>
<rect x="309.0" y="114.9" width="1" height="8.6" fill="#000" fill-opacity="0.45"/>
<line x1="310.5" x2="310.5" y1="106.0" y2="131.0" stroke="#000" stroke-opacity="0.55" stroke-width="1"/>
<rect x="310.0" y="114.9" width="1" height="11.7" fill="#000" fill-opacity="1"/>
<line x1="311.5" x2="311.5" y1="106.0" y2="129.9" stroke="#000" stroke-opacity="0.4" stroke-width="1"/>
<rect x="311.0" y="123.2" width="1" height="3.4" fill="#000" fill-opacity="0.45"/>
<line x1="312.5" x2="312.5" y1="116.2" y2="127.3" stroke="#000" stroke-opacity="0.4" stroke-width="1"/>
<rect x="312.0" y="120.9" width="1" height="2.3" fill="#000" fill-opacity="0.45"/>
<line x1="313.5" x2="313.5" y1="106.0" y2="127.8" stroke="#000" stroke-opacity="0.4" stroke-width="1"/>
<rect x="313.0" y="109.9" width="1" height="11.0" fill="#000" fill-opacity="0.45"/>
<line x1="314.5" x2="314.5" y1="109.3" y2="118.6" stroke="#000" stroke-opacity="0.55" stroke-width="1"/>
<rect x="314.0" y="109.9" width="1" height="2.3" fill="#000" fill-opacity="1"/>
<line x1="315.5" x2="315.5" y1="95.0" y2="116.0" stroke="#000" stroke-opacity="0.4" stroke-width="1"/>
<rect x="315.0" y="102.0" width="1" height="10.2" fill="#000" fill-opacity="0.45"/>
<line x1="316.5" x2="316.5" y1="95.4" y2="106.8" stroke="#000" stroke-opacity="0.4" stroke-width="1"/>
<rect x="316.0" y="97.1" width="1" height="4.9" fill="#000" fill-opacity="0.45"/>
<line x1="317.5" x2="317.5" y1="87.0" y2="108.9" stroke="#000" stroke-opacity="0.55" stroke-width="1"/>
<rect x="317.0" y="97.1" width="1" height="11.6" fill="#000" fill-opacity="1"/>
<line x1="318.5" x2="318.5" y1="98.9" y2="116.0" stroke="#000" stroke-opacity="0.4" stroke-width="1"/>
<rect x="318.0" y="108.1" width="1" height="0.8" fill="#000" fill-opacity="0.45"/>
<line x1="319.5" x2="319.5" y1="106.3" y2="116.0" stroke="#000" stroke-opacity="0.55" stroke-width="1"/>
<rect x="319.0" y="108.1" width="1" height="0.8" fill="#000" fill-opacity="1"/>
<line x1="320.5" x2="320.5" y1="92.6" y2="128.0" stroke="#000" stroke-opacity="0.55" stroke-width="1"/>
<rect x="320.0" y="108.8" width="1" height="9.5" fill="#000" fill-opacity="1"/>
<line x1="321.5" x2="321.5" y1="91.0" y2="128.0" stroke="#000" stroke-opacity="0.55" stroke-width="1"/>
<rect x="321.0" y="118.3" width="1" height="0.8" fill="#000" fill-opacity="1"/>
<line x1="322.5" x2="322.5" y1="101.7" y2="127.1" stroke="#000" stroke-opacity="0.4" stroke-width="1"/>
<rect x="322.0" y="111.7" width="1" height="6.8" fill="#000" fill-opacity="0.45"/>
<line x1="323.5" x2="323.5" y1="106.6" y2="111.7" stroke="#000" stroke-opacity="0.4" stroke-width="1"/>
<rect x="323.0" y="109.3" width="1" height="2.4" fill="#000" fill-opacity="0.45"/>
<line x1="324.5" x2="324.5" y1="99.8" y2="112.4" stroke="#000" stroke-opacity="0.4" stroke-width="1"/>
<rect x="324.0" y="100.2" width="1" height="9.0" fill="#000" fill-opacity="0.45"/>
<line x1="325.5" x2="325.5" y1="93.0" y2="116.0" stroke="#000" stroke-opacity="0.55" stroke-width="1"/>
<rect x="325.0" y="100.2" width="1" height="11.4" fill="#000" fill-opacity="1"/>
<line x1="326.5" x2="326.5" y1="105.2" y2="116.0" stroke="#000" stroke-opacity="0.4" stroke-width="1"/>
<rect x="326.0" y="107.2" width="1" height="4.5" fill="#000" fill-opacity="0.45"/>
<line x1="327.5" x2="327.5" y1="98.2" y2="116.0" stroke="#000" stroke-opacity="0.4" stroke-width="1"/>
<rect x="327.0" y="104.8" width="1" height="2.4" fill="#000" fill-opacity="0.45"/>
<line x1="328.5" x2="328.5" y1="98.5" y2="115.5" stroke="#000" stroke-opacity="0.55" stroke-width="1"/>
<rect x="328.0" y="104.8" width="1" height="5.4" fill="#000" fill-opacity="1"/>
<line x1="329.5" x2="329.5" y1="113.0" y2="137.9" stroke="#000" stroke-opacity="0.55" stroke-width="1"/>
<rect x="329.0" y="114.3" width="1" height="14.7" fill="#000" fill-opacity="1"/>
<line x1="330.5" x2="330.5" y1="119.5" y2="133.6" stroke="#000" stroke-opacity="0.4" stroke-width="1"/>
<rect x="330.0" y="126.0" width="1" height="3.0" fill="#000" fill-opacity="0.45"/>
<line x1="331.5" x2="331.5" y1="113.0" y2="127.0" stroke="#000" stroke-opacity="0.4" stroke-width="1"/>
<rect x="331.0" y="125.2" width="1" height="0.8" fill="#000" fill-opacity="0.45"/>
<line x1="332.5" x2="332.5" y1="123.1" y2="140.0" stroke="#000" stroke-opacity="0.55" stroke-width="1"/>
<rect x="332.0" y="125.2" width="1" height="4.5" fill="#000" fill-opacity="1"/>
<line x1="333.5" x2="333.5" y1="113.8" y2="131.2" stroke="#000" stroke-opacity="0.4" stroke-width="1"/>
<rect x="333.0" y="121.6" width="1" height="8.1" fill="#000" fill-opacity="0.45"/>
<line x1="333.5" x2="333.5" y1="113.0" y2="140.0" stroke="#000" stroke-opacity="0.4" stroke-width="1"/>
<rect x="333.0" y="119.8" width="1" height="1.9" fill="#000" fill-opacity="0.45"/>
<line x1="334.5" x2="334.5" y1="96.0" y2="116.0" stroke="#000" stroke-opacity="0.4" stroke-width="1"/>
<rect x="334.0" y="99.2" width="1" height="15.8" fill="#000" fill-opacity="0.45"/>
<line x1="335.5" x2="335.5" y1="96.0" y2="116.0" stroke="#000" stroke-opacity="0.55" stroke-width="1"/>
<rect x="335.0" y="99.2" width="1" height="9.6" fill="#000" fill-opacity="1"/>
<line x1="336.5" x2="336.5" y1="96.0" y2="116.0" stroke="#000" stroke-opacity="0.4" stroke-width="1"/>
<rect x="336.0" y="102.9" width="1" height="5.9" fill="#000" fill-opacity="0.45"/>
<line x1="337.5" x2="337.5" y1="96.0" y2="104.4" stroke="#000" stroke-opacity="0.4" stroke-width="1"/>
<rect x="337.0" y="99.7" width="1" height="3.2" fill="#000" fill-opacity="0.45"/>
<line x1="338.5" x2="338.5" y1="96.0" y2="114.0" stroke="#000" stroke-opacity="0.55" stroke-width="1"/>
<rect x="338.0" y="99.7" width="1" height="12.5" fill="#000" fill-opacity="1"/>
<line x1="339.5" x2="339.5" y1="96.0" y2="113.9" stroke="#000" stroke-opacity="0.4" stroke-width="1"/>
<rect x="339.0" y="101.0" width="1" height="11.2" fill="#000" fill-opacity="0.45"/>
<line x1="340.5" x2="340.5" y1="97.6" y2="112.2" stroke="#000" stroke-opacity="0.55" stroke-width="1"/>
<rect x="340.0" y="101.0" width="1" height="3.5" fill="#000" fill-opacity="1"/>
<line x1="341.5" x2="341.5" y1="93.0" y2="113.0" stroke="#000" stroke-opacity="0.55" stroke-width="1"/>
<rect x="341.0" y="104.5" width="1" height="4.9" fill="#000" fill-opacity="1"/>
<line x1="342.5" x2="342.5" y1="99.3" y2="113.0" stroke="#000" stroke-opacity="0.4" stroke-width="1"/>
<rect x="342.0" y="103.6" width="1" height="5.9" fill="#000" fill-opacity="0.45"/>
<line x1="343.5" x2="343.5" y1="103.3" y2="113.0" stroke="#000" stroke-opacity="0.55" stroke-width="1"/>
<rect x="343.0" y="103.6" width="1" height="4.4" fill="#000" fill-opacity="1"/>
<line x1="344.5" x2="344.5" y1="105.4" y2="117.7" stroke="#000" stroke-opacity="0.55" stroke-width="1"/>
<rect x="344.0" y="108.0" width="1" height="5.8" fill="#000" fill-opacity="1"/>
<line x1="345.5" x2="345.5" y1="110.1" y2="118.0" stroke="#000" stroke-opacity="0.4" stroke-width="1"/>
<rect x="345.0" y="111.2" width="1" height="2.6" fill="#000" fill-opacity="0.45"/>
<line x1="346.5" x2="346.5" y1="103.0" y2="112.3" stroke="#000" stroke-opacity="0.4" stroke-width="1"/>
<rect x="346.0" y="106.1" width="1" height="5.2" fill="#000" fill-opacity="0.45"/>
<line x1="347.5" x2="347.5" y1="103.0" y2="116.2" stroke="#000" stroke-opacity="0.55" stroke-width="1"/>
<rect x="347.0" y="106.1" width="1" height="9.9" fill="#000" fill-opacity="1"/>
<line x1="348.5" x2="348.5" y1="103.0" y2="116.2" stroke="#000" stroke-opacity="0.4" stroke-width="1"/>
<rect x="348.0" y="106.4" width="1" height="9.6" fill="#000" fill-opacity="0.45"/>
<line x1="349.5" x2="349.5" y1="105.3" y2="112.2" stroke="#000" stroke-opacity="0.4" stroke-width="1"/>
<rect x="349.0" y="105.6" width="1" height="0.8" fill="#000" fill-opacity="0.45"/>
<line x1="350.5" x2="350.5" y1="103.0" y2="118.0" stroke="#000" stroke-opacity="0.55" stroke-width="1"/>
<rect x="350.0" y="105.6" width="1" height="7.9" fill="#000" fill-opacity="1"/>
<line x1="351.5" x2="351.5" y1="109.0" y2="118.0" stroke="#000" stroke-opacity="0.55" stroke-width="1"/>
<rect x="351.0" y="113.5" width="1" height="0.8" fill="#000" fill-opacity="1"/>
<line x1="352.5" x2="352.5" y1="108.0" y2="114.5" stroke="#000" stroke-opacity="0.4" stroke-width="1"/>
<rect x="352.0" y="112.6" width="1" height="1.6" fill="#000" fill-opacity="0.45"/>
<line x1="353.5" x2="353.5" y1="108.0" y2="123.0" stroke="#000" stroke-opacity="0.55" stroke-width="1"/>
<rect x="353.0" y="112.6" width="1" height="8.0" fill="#000" fill-opacity="1"/>
<line x1="354.5" x2="354.5" y1="108.0" y2="123.0" stroke="#000" stroke-opacity="0.4" stroke-width="1"/>
<rect x="354.0" y="110.8" width="1" height="9.8" fill="#000" fill-opacity="0.45"/>
<line x1="355.5" x2="355.5" y1="109.9" y2="120.6" stroke="#000" stroke-opacity="0.55" stroke-width="1"/>
<rect x="355.0" y="110.8" width="1" height="4.4" fill="#000" fill-opacity="1"/>
<line x1="356.5" x2="356.5" y1="113.3" y2="119.4" stroke="#000" stroke-opacity="0.55" stroke-width="1"/>
<rect x="356.0" y="115.2" width="1" height="1.9" fill="#000" fill-opacity="1"/>
<line x1="357.5" x2="357.5" y1="109.4" y2="123.0" stroke="#000" stroke-opacity="0.4" stroke-width="1"/>
<rect x="357.0" y="111.8" width="1" height="5.4" fill="#000" fill-opacity="0.45"/>
<line x1="358.5" x2="358.5" y1="103.2" y2="116.0" stroke="#000" stroke-opacity="0.4" stroke-width="1"/>
<rect x="358.0" y="110.6" width="1" height="1.2" fill="#000" fill-opacity="0.45"/>
<line x1="359.5" x2="359.5" y1="104.5" y2="112.9" stroke="#000" stroke-opacity="0.4" stroke-width="1"/>
<rect x="359.0" y="108.4" width="1" height="2.2" fill="#000" fill-opacity="0.45"/>
<line x1="360.5" x2="360.5" y1="102.0" y2="110.6" stroke="#000" stroke-opacity="0.55" stroke-width="1"/>
<rect x="360.0" y="108.4" width="1" height="2.0" fill="#000" fill-opacity="1"/>
<line x1="361.5" x2="361.5" y1="98.0" y2="114.2" stroke="#000" stroke-opacity="0.4" stroke-width="1"/>
<rect x="361.0" y="107.3" width="1" height="3.1" fill="#000" fill-opacity="0.45"/>
<line x1="362.5" x2="362.5" y1="98.0" y2="113.0" stroke="#000" stroke-opacity="0.4" stroke-width="1"/>
<rect x="362.0" y="100.8" width="1" height="6.4" fill="#000" fill-opacity="0.45"/>
<line x1="363.5" x2="363.5" y1="98.0" y2="113.8" stroke="#000" stroke-opacity="0.55" stroke-width="1"/>
<rect x="363.0" y="100.8" width="1" height="10.7" fill="#000" fill-opacity="1"/>
<line x1="364.5" x2="364.5" y1="91.0" y2="132.9" stroke="#000" stroke-opacity="0.55" stroke-width="1"/>
<rect x="364.0" y="111.5" width="1" height="4.9" fill="#000" fill-opacity="1"/>
<line x1="365.5" x2="365.5" y1="95.6" y2="140.0" stroke="#000" stroke-opacity="0.4" stroke-width="1"/>
<rect x="365.0" y="103.2" width="1" height="13.1" fill="#000" fill-opacity="0.45"/>
<line x1="365.5" x2="365.5" y1="73.0" y2="101.0" stroke="#000" stroke-opacity="0.4" stroke-width="1"/>
<rect x="365.0" y="89.0" width="1" height="10.6" fill="#000" fill-opacity="0.45"/>
<line x1="366.5" x2="366.5" y1="86.7" y2="99.2" stroke="#000" stroke-opacity="0.4" stroke-width="1"/>
<rect x="366.0" y="88.7" width="1" height="0.8" fill="#000" fill-opacity="0.45"/>
<line x1="367.5" x2="367.5" y1="85.7" y2="101.0" stroke="#000" stroke-opacity="0.55" stroke-width="1"/>
<rect x="367.0" y="88.7" width="1" height="7.7" fill="#000" fill-opacity="1"/>
<line x1="368.5" x2="368.5" y1="84.3" y2="101.0" stroke="#000" stroke-opacity="0.4" stroke-width="1"/>
<rect x="368.0" y="94.0" width="1" height="2.3" fill="#000" fill-opacity="0.45"/>
<line x1="369.5" x2="369.5" y1="86.5" y2="99.5" stroke="#000" stroke-opacity="0.4" stroke-width="1"/>
<rect x="369.0" y="92.1" width="1" height="1.9" fill="#000" fill-opacity="0.45"/>
<line x1="370.5" x2="370.5" y1="90.9" y2="111.0" stroke="#000" stroke-opacity="0.55" stroke-width="1"/>
<rect x="370.0" y="92.1" width="1" height="12.6" fill="#000" fill-opacity="1"/>
<line x1="371.5" x2="371.5" y1="81.4" y2="108.4" stroke="#000" stroke-opacity="0.4" stroke-width="1"/>
<rect x="371.0" y="84.3" width="1" height="20.4" fill="#000" fill-opacity="0.45"/>
<line x1="372.5" x2="372.5" y1="80.0" y2="110.2" stroke="#000" stroke-opacity="0.55" stroke-width="1"/>
<rect x="372.0" y="84.3" width="1" height="20.6" fill="#000" fill-opacity="1"/>
<line x1="373.5" x2="373.5" y1="80.0" y2="111.0" stroke="#000" stroke-opacity="0.4" stroke-width="1"/>
<rect x="373.0" y="87.8" width="1" height="17.2" fill="#000" fill-opacity="0.45"/>
<line x1="374.5" x2="374.5" y1="42.0" y2="83.0" stroke="#000" stroke-opacity="0.4" stroke-width="1"/>
<rect x="374.0" y="70.4" width="1" height="10.5" fill="#000" fill-opacity="0.45"/>
<line x1="375.5" x2="375.5" y1="51.8" y2="83.0" stroke="#000" stroke-opacity="0.4" stroke-width="1"/>
<rect x="375.0" y="57.8" width="1" height="12.7" fill="#000" fill-opacity="0.45"/>
<line x1="376.5" x2="376.5" y1="45.6" y2="83.0" stroke="#000" stroke-opacity="0.55" stroke-width="1"/>
<rect x="376.0" y="57.8" width="1" height="15.0" fill="#000" fill-opacity="1"/>
<line x1="377.5" x2="377.5" y1="70.0" y2="84.3" stroke="#000" stroke-opacity="0.55" stroke-width="1"/>
<rect x="377.0" y="72.8" width="1" height="6.3" fill="#000" fill-opacity="1"/>
<line x1="378.5" x2="378.5" y1="70.0" y2="90.0" stroke="#000" stroke-opacity="0.4" stroke-width="1"/>
<rect x="378.0" y="74.3" width="1" height="4.8" fill="#000" fill-opacity="0.45"/>
<line x1="379.5" x2="379.5" y1="72.6" y2="78.7" stroke="#000" stroke-opacity="0.55" stroke-width="1"/>
<rect x="379.0" y="74.3" width="1" height="1.7" fill="#000" fill-opacity="1"/>
<line x1="380.5" x2="380.5" y1="70.0" y2="86.4" stroke="#000" stroke-opacity="0.55" stroke-width="1"/>
<rect x="380.0" y="76.0" width="1" height="9.0" fill="#000" fill-opacity="1"/>
<line x1="381.5" x2="381.5" y1="90.0" y2="109.0" stroke="#000" stroke-opacity="0.55" stroke-width="1"/>
<rect x="381.0" y="91.2" width="1" height="14.3" fill="#000" fill-opacity="1"/>
<line x1="382.5" x2="382.5" y1="90.0" y2="113.0" stroke="#000" stroke-opacity="0.4" stroke-width="1"/>
<rect x="382.0" y="96.9" width="1" height="8.5" fill="#000" fill-opacity="0.45"/>
<line x1="383.5" x2="383.5" y1="90.0" y2="111.2" stroke="#000" stroke-opacity="0.55" stroke-width="1"/>
<rect x="383.0" y="96.9" width="1" height="12.6" fill="#000" fill-opacity="1"/>
<line x1="384.5" x2="384.5" y1="102.2" y2="111.0" stroke="#000" stroke-opacity="0.4" stroke-width="1"/>
<rect x="384.0" y="104.3" width="1" height="5.2" fill="#000" fill-opacity="0.45"/>
<line x1="385.5" x2="385.5" y1="101.1" y2="110.3" stroke="#000" stroke-opacity="0.55" stroke-width="1"/>
<rect x="385.0" y="104.3" width="1" height="3.0" fill="#000" fill-opacity="1"/>
<line x1="386.5" x2="386.5" y1="94.0" y2="110.3" stroke="#000" stroke-opacity="0.4" stroke-width="1"/>
<rect x="386.0" y="98.9" width="1" height="8.4" fill="#000" fill-opacity="0.45"/>
<line x1="387.5" x2="387.5" y1="94.0" y2="113.2" stroke="#000" stroke-opacity="0.55" stroke-width="1"/>
<rect x="387.0" y="98.9" width="1" height="14.2" fill="#000" fill-opacity="1"/>
<line x1="388.5" x2="388.5" y1="94.0" y2="115.4" stroke="#000" stroke-opacity="0.4" stroke-width="1"/>
<rect x="388.0" y="112.5" width="1" height="0.8" fill="#000" fill-opacity="0.45"/>
<line x1="389.5" x2="389.5" y1="108.8" y2="118.0" stroke="#000" stroke-opacity="0.4" stroke-width="1"/>
<rect x="389.0" y="112.0" width="1" height="0.8" fill="#000" fill-opacity="0.45"/>
<line x1="390.5" x2="390.5" y1="121.0" y2="129.1" stroke="#000" stroke-opacity="0.55" stroke-width="1"/>
<rect x="390.0" y="121.8" width="1" height="1.2" fill="#000" fill-opacity="1"/>
<line x1="391.5" x2="391.5" y1="121.0" y2="137.0" stroke="#000" stroke-opacity="0.55" stroke-width="1"/>
<rect x="391.0" y="123.0" width="1" height="8.5" fill="#000" fill-opacity="1"/>
<line x1="392.5" x2="392.5" y1="126.6" y2="137.0" stroke="#000" stroke-opacity="0.55" stroke-width="1"/>
<rect x="392.0" y="131.4" width="1" height="1.8" fill="#000" fill-opacity="1"/>
<line x1="393.5" x2="393.5" y1="128.4" y2="137.0" stroke="#000" stroke-opacity="0.4" stroke-width="1"/>
<rect x="393.0" y="133.0" width="1" height="0.8" fill="#000" fill-opacity="0.45"/>
<line x1="394.5" x2="394.5" y1="131.0" y2="140.0" stroke="#000" stroke-opacity="0.55" stroke-width="1"/>
<rect x="394.0" y="133.0" width="1" height="5.3" fill="#000" fill-opacity="1"/>
<line x1="395.5" x2="395.5" y1="131.0" y2="140.6" stroke="#000" stroke-opacity="0.4" stroke-width="1"/>
<rect x="395.0" y="138.2" width="1" height="0.8" fill="#000" fill-opacity="0.45"/>
<line x1="396.5" x2="396.5" y1="134.3" y2="143.0" stroke="#000" stroke-opacity="0.55" stroke-width="1"/>
<rect x="396.0" y="138.2" width="1" height="1.4" fill="#000" fill-opacity="1"/>
<line x1="397.5" x2="397.5" y1="132.4" y2="142.0" stroke="#000" stroke-opacity="0.4" stroke-width="1"/>
<rect x="397.0" y="134.7" width="1" height="4.9" fill="#000" fill-opacity="0.45"/>
<line x1="398.5" x2="398.5" y1="131.8" y2="138.4" stroke="#000" stroke-opacity="0.4" stroke-width="1"/>
<rect x="398.0" y="134.0" width="1" height="0.8" fill="#000" fill-opacity="0.45"/>
<line x1="398.5" x2="398.5" y1="126.0" y2="133.0" stroke="#000" stroke-opacity="0.4" stroke-width="1"/>
<rect x="398.0" y="128.7" width="1" height="3.6" fill="#000" fill-opacity="0.45"/>
<line x1="399.5" x2="399.5" y1="118.0" y2="133.0" stroke="#000" stroke-opacity="0.55" stroke-width="1"/>
<rect x="399.0" y="128.7" width="1" height="2.2" fill="#000" fill-opacity="1"/>
<line x1="400.5" x2="400.5" y1="118.0" y2="133.0" stroke="#000" stroke-opacity="0.4" stroke-width="1"/>
<rect x="400.0" y="121.6" width="1" height="9.3" fill="#000" fill-opacity="0.45"/>
<line x1="401.5" x2="401.5" y1="121.0" y2="133.0" stroke="#000" stroke-opacity="0.55" stroke-width="1"/>
<rect x="401.0" y="121.6" width="1" height="0.8" fill="#000" fill-opacity="1"/>
<line x1="402.5" x2="402.5" y1="98.0" y2="116.0" stroke="#000" stroke-opacity="0.4" stroke-width="1"/>
<rect x="402.0" y="107.2" width="1" height="7.9" fill="#000" fill-opacity="0.45"/>
<line x1="403.5" x2="403.5" y1="103.8" y2="115.0" stroke="#000" stroke-opacity="0.55" stroke-width="1"/>
<rect x="403.0" y="107.2" width="1" height="0.8" fill="#000" fill-opacity="1"/>
<line x1="404.5" x2="404.5" y1="98.0" y2="116.0" stroke="#000" stroke-opacity="0.4" stroke-width="1"/>
<rect x="404.0" y="102.5" width="1" height="4.8" fill="#000" fill-opacity="0.45"/>
<line x1="405.5" x2="405.5" y1="92.7" y2="97.6" stroke="#000" stroke-opacity="0.4" stroke-width="1"/>
<rect x="405.0" y="95.6" width="1" height="1.5" fill="#000" fill-opacity="0.45"/>
<line x1="406.5" x2="406.5" y1="80.0" y2="95.7" stroke="#000" stroke-opacity="0.4" stroke-width="1"/>
<rect x="406.0" y="85.9" width="1" height="9.7" fill="#000" fill-opacity="0.45"/>
<line x1="407.5" x2="407.5" y1="82.5" y2="98.0" stroke="#000" stroke-opacity="0.55" stroke-width="1"/>
<rect x="407.0" y="85.9" width="1" height="7.6" fill="#000" fill-opacity="1"/>
<line x1="408.5" x2="408.5" y1="91.5" y2="101.1" stroke="#000" stroke-opacity="0.55" stroke-width="1"/>
<rect x="408.0" y="93.5" width="1" height="0.9" fill="#000" fill-opacity="1"/>
<line x1="409.5" x2="409.5" y1="88.0" y2="106.7" stroke="#000" stroke-opacity="0.55" stroke-width="1"/>
<rect x="409.0" y="94.4" width="1" height="10.3" fill="#000" fill-opacity="1"/>
<line x1="410.5" x2="410.5" y1="99.1" y2="106.6" stroke="#000" stroke-opacity="0.4" stroke-width="1"/>
<rect x="410.0" y="102.6" width="1" height="2.1" fill="#000" fill-opacity="0.45"/>
<line x1="411.5" x2="411.5" y1="95.6" y2="108.0" stroke="#000" stroke-opacity="0.55" stroke-width="1"/>
<rect x="411.0" y="102.6" width="1" height="0.8" fill="#000" fill-opacity="1"/>
<line x1="412.5" x2="412.5" y1="103.0" y2="122.5" stroke="#000" stroke-opacity="0.55" stroke-width="1"/>
<rect x="412.0" y="104.0" width="1" height="11.2" fill="#000" fill-opacity="1"/>
<line x1="413.5" x2="413.5" y1="103.0" y2="122.6" stroke="#000" stroke-opacity="0.4" stroke-width="1"/>
<rect x="413.0" y="107.6" width="1" height="7.5" fill="#000" fill-opacity="0.45"/>
<line x1="414.5" x2="414.5" y1="103.0" y2="123.0" stroke="#000" stroke-opacity="0.55" stroke-width="1"/>
<rect x="414.0" y="107.6" width="1" height="10.4" fill="#000" fill-opacity="1"/>
<line x1="415.5" x2="415.5" y1="113.0" y2="120.9" stroke="#000" stroke-opacity="0.4" stroke-width="1"/>
<rect x="415.0" y="116.9" width="1" height="1.1" fill="#000" fill-opacity="0.45"/>
<line x1="416.5" x2="416.5" y1="114.7" y2="129.8" stroke="#000" stroke-opacity="0.55" stroke-width="1"/>
<rect x="416.0" y="116.9" width="1" height="9.9" fill="#000" fill-opacity="1"/>
<line x1="417.5" x2="417.5" y1="115.2" y2="128.3" stroke="#000" stroke-opacity="0.4" stroke-width="1"/>
<rect x="417.0" y="118.6" width="1" height="8.2" fill="#000" fill-opacity="0.45"/>
<line x1="418.5" x2="418.5" y1="113.0" y2="120.9" stroke="#000" stroke-opacity="0.4" stroke-width="1"/>
<rect x="418.0" y="115.2" width="1" height="3.4" fill="#000" fill-opacity="0.45"/>
<line x1="419.5" x2="419.5" y1="113.0" y2="131.0" stroke="#000" stroke-opacity="0.55" stroke-width="1"/>
<rect x="419.0" y="115.2" width="1" height="11.3" fill="#000" fill-opacity="1"/>
<line x1="420.5" x2="420.5" y1="128.0" y2="141.8" stroke="#000" stroke-opacity="0.55" stroke-width="1"/>
<rect x="420.0" y="128.9" width="1" height="10.0" fill="#000" fill-opacity="1"/>
<line x1="421.5" x2="421.5" y1="132.0" y2="143.3" stroke="#000" stroke-opacity="0.55" stroke-width="1"/>
<rect x="421.0" y="138.9" width="1" height="4.0" fill="#000" fill-opacity="1"/>
<line x1="422.5" x2="422.5" y1="128.0" y2="146.0" stroke="#000" stroke-opacity="0.4" stroke-width="1"/>
<rect x="422.0" y="141.5" width="1" height="1.4" fill="#000" fill-opacity="0.45"/>
<line x1="423.5" x2="423.5" y1="128.0" y2="146.0" stroke="#000" stroke-opacity="0.4" stroke-width="1"/>
<rect x="423.0" y="132.1" width="1" height="9.4" fill="#000" fill-opacity="0.45"/>
<line x1="424.5" x2="424.5" y1="132.0" y2="140.2" stroke="#000" stroke-opacity="0.55" stroke-width="1"/>
<rect x="424.0" y="132.1" width="1" height="0.8" fill="#000" fill-opacity="1"/>
<line x1="425.5" x2="425.5" y1="127.2" y2="136.0" stroke="#000" stroke-opacity="0.4" stroke-width="1"/>
<rect x="425.0" y="130.6" width="1" height="1.9" fill="#000" fill-opacity="0.45"/>
<line x1="426.5" x2="426.5" y1="123.8" y2="136.0" stroke="#000" stroke-opacity="0.4" stroke-width="1"/>
<rect x="426.0" y="126.4" width="1" height="4.2" fill="#000" fill-opacity="0.45"/>
<line x1="427.5" x2="427.5" y1="123.0" y2="129.7" stroke="#000" stroke-opacity="0.55" stroke-width="1"/>
<rect x="427.0" y="126.4" width="1" height="0.8" fill="#000" fill-opacity="1"/>
<line x1="428.5" x2="428.5" y1="123.0" y2="136.0" stroke="#000" stroke-opacity="0.55" stroke-width="1"/>
<rect x="428.0" y="126.6" width="1" height="4.0" fill="#000" fill-opacity="1"/>
<line x1="429.5" x2="429.5" y1="125.3" y2="136.0" stroke="#000" stroke-opacity="0.55" stroke-width="1"/>
<rect x="429.0" y="130.6" width="1" height="2.2" fill="#000" fill-opacity="1"/>
<line x1="430.5" x2="430.5" y1="141.0" y2="155.3" stroke="#000" stroke-opacity="0.55" stroke-width="1"/>
<rect x="430.0" y="142.3" width="1" height="12.0" fill="#000" fill-opacity="1"/>
<line x1="430.5" x2="430.5" y1="141.0" y2="162.9" stroke="#000" stroke-opacity="0.55" stroke-width="1"/>
<rect x="430.0" y="154.4" width="1" height="7.1" fill="#000" fill-opacity="1"/>
<line x1="431.5" x2="431.5" y1="141.6" y2="168.0" stroke="#000" stroke-opacity="0.4" stroke-width="1"/>
<rect x="431.0" y="146.7" width="1" height="14.8" fill="#000" fill-opacity="0.45"/>
<line x1="432.5" x2="432.5" y1="141.0" y2="159.8" stroke="#000" stroke-opacity="0.55" stroke-width="1"/>
<rect x="432.0" y="146.7" width="1" height="7.3" fill="#000" fill-opacity="1"/>
<line x1="433.5" x2="433.5" y1="141.0" y2="168.0" stroke="#000" stroke-opacity="0.4" stroke-width="1"/>
<rect x="433.0" y="147.8" width="1" height="6.2" fill="#000" fill-opacity="0.45"/>
<line x1="434.5" x2="434.5" y1="130.0" y2="149.2" stroke="#000" stroke-opacity="0.4" stroke-width="1"/>
<rect x="434.0" y="141.5" width="1" height="6.2" fill="#000" fill-opacity="0.45"/>
<line x1="435.5" x2="435.5" y1="131.0" y2="146.0" stroke="#000" stroke-opacity="0.4" stroke-width="1"/>
<rect x="435.0" y="137.3" width="1" height="4.2" fill="#000" fill-opacity="0.45"/>
<line x1="436.5" x2="436.5" y1="132.7" y2="150.0" stroke="#000" stroke-opacity="0.4" stroke-width="1"/>
<rect x="436.0" y="136.9" width="1" height="0.8" fill="#000" fill-opacity="0.45"/>
<line x1="437.5" x2="437.5" y1="130.8" y2="149.2" stroke="#000" stroke-opacity="0.55" stroke-width="1"/>
<rect x="437.0" y="136.9" width="1" height="10.7" fill="#000" fill-opacity="1"/>
<line x1="438.5" x2="438.5" y1="130.0" y2="147.8" stroke="#000" stroke-opacity="0.4" stroke-width="1"/>
<rect x="438.0" y="135.0" width="1" height="12.6" fill="#000" fill-opacity="0.45"/>
<line x1="439.5" x2="439.5" y1="128.4" y2="133.0" stroke="#000" stroke-opacity="0.4" stroke-width="1"/>
<rect x="439.0" y="129.0" width="1" height="3.2" fill="#000" fill-opacity="0.45"/>
<line x1="440.5" x2="440.5" y1="127.5" y2="130.5" stroke="#000" stroke-opacity="0.4" stroke-width="1"/>
<rect x="440.0" y="128.4" width="1" height="0.8" fill="#000" fill-opacity="0.45"/>
<line x1="441.5" x2="441.5" y1="118.0" y2="129.1" stroke="#000" stroke-opacity="0.4" stroke-width="1"/>
<rect x="441.0" y="124.5" width="1" height="3.9" fill="#000" fill-opacity="0.45"/>
<line x1="442.5" x2="442.5" y1="122.2" y2="133.0" stroke="#000" stroke-opacity="0.55" stroke-width="1"/>
<rect x="442.0" y="124.5" width="1" height="2.8" fill="#000" fill-opacity="1"/>
<line x1="443.5" x2="443.5" y1="118.0" y2="129.2" stroke="#000" stroke-opacity="0.4" stroke-width="1"/>
<rect x="443.0" y="121.8" width="1" height="5.6" fill="#000" fill-opacity="0.45"/>
<line x1="444.5" x2="444.5" y1="109.4" y2="118.0" stroke="#000" stroke-opacity="0.4" stroke-width="1"/>
<rect x="444.0" y="109.7" width="1" height="7.7" fill="#000" fill-opacity="0.45"/>
<line x1="445.5" x2="445.5" y1="106.0" y2="112.5" stroke="#000" stroke-opacity="0.55" stroke-width="1"/>
<rect x="445.0" y="109.7" width="1" height="0.9" fill="#000" fill-opacity="1"/>
<line x1="446.5" x2="446.5" y1="106.0" y2="118.0" stroke="#000" stroke-opacity="0.55" stroke-width="1"/>
<rect x="446.0" y="110.7" width="1" height="5.7" fill="#000" fill-opacity="1"/>
<line x1="447.5" x2="447.5" y1="112.3" y2="117.1" stroke="#000" stroke-opacity="0.4" stroke-width="1"/>
<rect x="447.0" y="115.0" width="1" height="1.4" fill="#000" fill-opacity="0.45"/>
<line x1="448.5" x2="448.5" y1="115.0" y2="166.0" stroke="#000" stroke-opacity="0.55" stroke-width="1"/>
<rect x="448.0" y="117.5" width="1" height="31.2" fill="#000" fill-opacity="1"/>
<line x1="449.5" x2="449.5" y1="115.0" y2="166.0" stroke="#000" stroke-opacity="0.4" stroke-width="1"/>
<rect x="449.0" y="124.5" width="1" height="24.2" fill="#000" fill-opacity="0.45"/>
<line x1="450.5" x2="450.5" y1="115.2" y2="166.0" stroke="#000" stroke-opacity="0.55" stroke-width="1"/>
<rect x="450.0" y="124.5" width="1" height="28.7" fill="#000" fill-opacity="1"/>
<line x1="451.5" x2="451.5" y1="148.0" y2="162.5" stroke="#000" stroke-opacity="0.4" stroke-width="1"/>
<rect x="451.0" y="153.1" width="1" height="0.8" fill="#000" fill-opacity="0.45"/>
<line x1="452.5" x2="452.5" y1="148.0" y2="173.0" stroke="#000" stroke-opacity="0.55" stroke-width="1"/>
<rect x="452.0" y="153.1" width="1" height="7.0" fill="#000" fill-opacity="1"/>
<line x1="453.5" x2="453.5" y1="153.9" y2="164.7" stroke="#000" stroke-opacity="0.55" stroke-width="1"/>
<rect x="453.0" y="160.0" width="1" height="0.8" fill="#000" fill-opacity="1"/>
<line x1="454.5" x2="454.5" y1="152.9" y2="173.0" stroke="#000" stroke-opacity="0.55" stroke-width="1"/>
<rect x="454.0" y="160.5" width="1" height="6.2" fill="#000" fill-opacity="1"/>
<line x1="455.5" x2="455.5" y1="158.0" y2="186.0" stroke="#000" stroke-opacity="0.4" stroke-width="1"/>
<rect x="455.0" y="162.2" width="1" height="4.5" fill="#000" fill-opacity="0.45"/>
<line x1="456.5" x2="456.5" y1="158.0" y2="176.0" stroke="#000" stroke-opacity="0.55" stroke-width="1"/>
<rect x="456.0" y="162.2" width="1" height="2.8" fill="#000" fill-opacity="1"/>
<line x1="457.5" x2="457.5" y1="145.0" y2="172.5" stroke="#000" stroke-opacity="0.55" stroke-width="1"/>
<rect x="457.0" y="165.0" width="1" height="2.8" fill="#000" fill-opacity="1"/>
<line x1="458.5" x2="458.5" y1="156.0" y2="173.0" stroke="#000" stroke-opacity="0.4" stroke-width="1"/>
<rect x="458.0" y="165.9" width="1" height="1.9" fill="#000" fill-opacity="0.45"/>
<line x1="459.5" x2="459.5" y1="150.0" y2="171.2" stroke="#000" stroke-opacity="0.4" stroke-width="1"/>
<rect x="459.0" y="153.9" width="1" height="12.0" fill="#000" fill-opacity="0.45"/>
<line x1="460.5" x2="460.5" y1="148.4" y2="173.0" stroke="#000" stroke-opacity="0.55" stroke-width="1"/>
<rect x="460.0" y="153.9" width="1" height="12.1" fill="#000" fill-opacity="1"/>
<line x1="461.5" x2="461.5" y1="176.8" y2="191.7" stroke="#000" stroke-opacity="0.55" stroke-width="1"/>
<rect x="461.0" y="177.3" width="1" height="13.0" fill="#000" fill-opacity="1"/>
<line x1="462.5" x2="462.5" y1="183.6" y2="202.0" stroke="#000" stroke-opacity="0.55" stroke-width="1"/>
<rect x="462.0" y="190.3" width="1" height="4.8" fill="#000" fill-opacity="1"/>
<line x1="462.5" x2="462.5" y1="176.0" y2="202.0" stroke="#000" stroke-opacity="0.4" stroke-width="1"/>
<rect x="462.0" y="182.5" width="1" height="12.6" fill="#000" fill-opacity="0.45"/>
<line x1="463.5" x2="463.5" y1="160.0" y2="183.0" stroke="#000" stroke-opacity="0.4" stroke-width="1"/>
<rect x="463.0" y="179.9" width="1" height="1.9" fill="#000" fill-opacity="0.45"/>
<line x1="464.5" x2="464.5" y1="160.0" y2="183.0" stroke="#000" stroke-opacity="0.4" stroke-width="1"/>
<rect x="464.0" y="164.5" width="1" height="15.4" fill="#000" fill-opacity="0.45"/>
<line x1="465.5" x2="465.5" y1="164.4" y2="165.5" stroke="#000" stroke-opacity="0.55" stroke-width="1"/>
<rect x="465.0" y="164.5" width="1" height="0.9" fill="#000" fill-opacity="1"/>
<line x1="466.5" x2="466.5" y1="164.2" y2="175.8" stroke="#000" stroke-opacity="0.55" stroke-width="1"/>
<rect x="466.0" y="165.4" width="1" height="0.8" fill="#000" fill-opacity="1"/>
<line x1="467.5" x2="467.5" y1="158.0" y2="176.1" stroke="#000" stroke-opacity="0.55" stroke-width="1"/>
<rect x="467.0" y="165.8" width="1" height="10.2" fill="#000" fill-opacity="1"/>
<line x1="468.5" x2="468.5" y1="170.8" y2="181.0" stroke="#000" stroke-opacity="0.4" stroke-width="1"/>
<rect x="468.0" y="173.3" width="1" height="2.6" fill="#000" fill-opacity="0.45"/>
<line x1="469.5" x2="469.5" y1="163.5" y2="181.0" stroke="#000" stroke-opacity="0.4" stroke-width="1"/>
<rect x="469.0" y="164.0" width="1" height="9.3" fill="#000" fill-opacity="0.45"/>
<line x1="470.5" x2="470.5" y1="158.0" y2="180.8" stroke="#000" stroke-opacity="0.55" stroke-width="1"/>
<rect x="470.0" y="164.0" width="1" height="9.2" fill="#000" fill-opacity="1"/>
<line x1="471.5" x2="471.5" y1="158.0" y2="180.6" stroke="#000" stroke-opacity="0.4" stroke-width="1"/>
<rect x="471.0" y="162.2" width="1" height="11.0" fill="#000" fill-opacity="0.45"/>
<line x1="472.5" x2="472.5" y1="158.0" y2="181.0" stroke="#000" stroke-opacity="0.55" stroke-width="1"/>
<rect x="472.0" y="162.2" width="1" height="6.6" fill="#000" fill-opacity="1"/>
<line x1="473.5" x2="473.5" y1="158.0" y2="168.9" stroke="#000" stroke-opacity="0.4" stroke-width="1"/>
<rect x="473.0" y="163.8" width="1" height="5.1" fill="#000" fill-opacity="0.45"/>
<line x1="474.5" x2="474.5" y1="157.4" y2="168.8" stroke="#000" stroke-opacity="0.55" stroke-width="1"/>
<rect x="474.0" y="163.8" width="1" height="1.0" fill="#000" fill-opacity="1"/>
<line x1="475.5" x2="475.5" y1="150.0" y2="173.0" stroke="#000" stroke-opacity="0.4" stroke-width="1"/>
<rect x="475.0" y="158.2" width="1" height="6.5" fill="#000" fill-opacity="0.45"/>
<line x1="476.5" x2="476.5" y1="151.9" y2="170.6" stroke="#000" stroke-opacity="0.55" stroke-width="1"/>
<rect x="476.0" y="158.2" width="1" height="9.1" fill="#000" fill-opacity="1"/>
<line x1="477.5" x2="477.5" y1="159.7" y2="172.2" stroke="#000" stroke-opacity="0.4" stroke-width="1"/>
<rect x="477.0" y="167.2" width="1" height="0.8" fill="#000" fill-opacity="0.45"/>
<line x1="478.5" x2="478.5" y1="165.8" y2="188.0" stroke="#000" stroke-opacity="0.55" stroke-width="1"/>
<rect x="478.0" y="167.2" width="1" height="16.7" fill="#000" fill-opacity="1"/>
<line x1="479.5" x2="479.5" y1="160.0" y2="188.0" stroke="#000" stroke-opacity="0.4" stroke-width="1"/>
<rect x="479.0" y="166.9" width="1" height="17.1" fill="#000" fill-opacity="0.45"/>
<line x1="480.5" x2="480.5" y1="161.1" y2="188.0" stroke="#000" stroke-opacity="0.55" stroke-width="1"/>
<rect x="480.0" y="166.9" width="1" height="13.1" fill="#000" fill-opacity="1"/>
<line x1="481.5" x2="481.5" y1="175.2" y2="183.4" stroke="#000" stroke-opacity="0.4" stroke-width="1"/>
<rect x="481.0" y="179.4" width="1" height="0.8" fill="#000" fill-opacity="0.45"/>
<line x1="482.5" x2="482.5" y1="160.0" y2="188.0" stroke="#000" stroke-opacity="0.4" stroke-width="1"/>
<rect x="482.0" y="167.0" width="1" height="12.4" fill="#000" fill-opacity="0.45"/>
<line x1="483.5" x2="483.5" y1="158.9" y2="165.4" stroke="#000" stroke-opacity="0.4" stroke-width="1"/>
<rect x="483.0" y="163.2" width="1" height="2.2" fill="#000" fill-opacity="0.45"/>
<line x1="484.5" x2="484.5" y1="153.0" y2="166.0" stroke="#000" stroke-opacity="0.4" stroke-width="1"/>
<rect x="484.0" y="156.1" width="1" height="7.1" fill="#000" fill-opacity="0.45"/>
<line x1="485.5" x2="485.5" y1="153.0" y2="166.0" stroke="#000" stroke-opacity="0.55" stroke-width="1"/>
<rect x="485.0" y="156.1" width="1" height="8.2" fill="#000" fill-opacity="1"/>
<line x1="486.5" x2="486.5" y1="153.8" y2="166.0" stroke="#000" stroke-opacity="0.4" stroke-width="1"/>
<rect x="486.0" y="158.3" width="1" height="5.9" fill="#000" fill-opacity="0.45"/>
<line x1="487.5" x2="487.5" y1="153.0" y2="160.2" stroke="#000" stroke-opacity="0.4" stroke-width="1"/>
<rect x="487.0" y="156.2" width="1" height="2.0" fill="#000" fill-opacity="0.45"/>
<line x1="488.5" x2="488.5" y1="142.0" y2="155.0" stroke="#000" stroke-opacity="0.4" stroke-width="1"/>
<rect x="488.0" y="145.1" width="1" height="9.2" fill="#000" fill-opacity="0.45"/>
<line x1="489.5" x2="489.5" y1="143.4" y2="152.1" stroke="#000" stroke-opacity="0.55" stroke-width="1"/>
<rect x="489.0" y="145.1" width="1" height="6.2" fill="#000" fill-opacity="1"/>
<line x1="490.5" x2="490.5" y1="142.0" y2="153.2" stroke="#000" stroke-opacity="0.55" stroke-width="1"/>
<rect x="490.0" y="151.3" width="1" height="1.1" fill="#000" fill-opacity="1"/>
<line x1="491.5" x2="491.5" y1="147.7" y2="155.0" stroke="#000" stroke-opacity="0.55" stroke-width="1"/>
<rect x="491.0" y="152.4" width="1" height="0.8" fill="#000" fill-opacity="1"/>
<line x1="492.5" x2="492.5" y1="148.3" y2="155.0" stroke="#000" stroke-opacity="0.4" stroke-width="1"/>
<rect x="492.0" y="151.2" width="1" height="2.0" fill="#000" fill-opacity="0.45"/>
<line x1="493.5" x2="493.5" y1="146.1" y2="153.5" stroke="#000" stroke-opacity="0.4" stroke-width="1"/>
<rect x="493.0" y="148.9" width="1" height="2.3" fill="#000" fill-opacity="0.45"/>
<line x1="494.5" x2="494.5" y1="144.7" y2="155.0" stroke="#000" stroke-opacity="0.55" stroke-width="1"/>
<rect x="494.0" y="148.9" width="1" height="2.9" fill="#000" fill-opacity="1"/>
<line x1="495.5" x2="495.5" y1="160.0" y2="167.7" stroke="#000" stroke-opacity="0.55" stroke-width="1"/>
<rect x="495.0" y="160.8" width="1" height="1.8" fill="#000" fill-opacity="1"/>
<line x1="495.5" x2="495.5" y1="160.0" y2="173.2" stroke="#000" stroke-opacity="0.55" stroke-width="1"/>
<rect x="495.0" y="162.6" width="1" height="10.6" fill="#000" fill-opacity="1"/>
<line x1="496.5" x2="496.5" y1="160.0" y2="176.0" stroke="#000" stroke-opacity="0.4" stroke-width="1"/>
<rect x="496.0" y="166.6" width="1" height="6.6" fill="#000" fill-opacity="0.45"/>
<line x1="497.5" x2="497.5" y1="165.8" y2="176.0" stroke="#000" stroke-opacity="0.4" stroke-width="1"/>
<rect x="497.0" y="166.2" width="1" height="0.8" fill="#000" fill-opacity="0.45"/>
<line x1="498.5" x2="498.5" y1="164.4" y2="176.0" stroke="#000" stroke-opacity="0.55" stroke-width="1"/>
<rect x="498.0" y="166.2" width="1" height="5.8" fill="#000" fill-opacity="1"/>
<line x1="499.5" x2="499.5" y1="173.0" y2="186.0" stroke="#000" stroke-opacity="0.55" stroke-width="1"/>
<rect x="499.0" y="173.7" width="1" height="5.9" fill="#000" fill-opacity="1"/>
<line x1="500.5" x2="500.5" y1="173.0" y2="181.3" stroke="#000" stroke-opacity="0.4" stroke-width="1"/>
<rect x="500.0" y="175.5" width="1" height="4.1" fill="#000" fill-opacity="0.45"/>
<line x1="501.5" x2="501.5" y1="173.4" y2="184.8" stroke="#000" stroke-opacity="0.55" stroke-width="1"/>
<rect x="501.0" y="175.5" width="1" height="4.8" fill="#000" fill-opacity="1"/>
<line x1="502.5" x2="502.5" y1="173.0" y2="186.0" stroke="#000" stroke-opacity="0.55" stroke-width="1"/>
<rect x="502.0" y="180.3" width="1" height="2.8" fill="#000" fill-opacity="1"/>
<line x1="503.5" x2="503.5" y1="173.0" y2="185.2" stroke="#000" stroke-opacity="0.4" stroke-width="1"/>
<rect x="503.0" y="176.2" width="1" height="6.8" fill="#000" fill-opacity="0.45"/>
<line x1="504.5" x2="504.5" y1="155.0" y2="168.0" stroke="#000" stroke-opacity="0.4" stroke-width="1"/>
<rect x="504.0" y="158.1" width="1" height="9.2" fill="#000" fill-opacity="0.45"/>
<line x1="505.5" x2="505.5" y1="158.0" y2="161.9" stroke="#000" stroke-opacity="0.55" stroke-width="1"/>
<rect x="505.0" y="158.1" width="1" height="3.6" fill="#000" fill-opacity="1"/>
<line x1="506.5" x2="506.5" y1="155.0" y2="164.5" stroke="#000" stroke-opacity="0.4" stroke-width="1"/>
<rect x="506.0" y="158.2" width="1" height="3.4" fill="#000" fill-opacity="0.45"/>
<line x1="507.5" x2="507.5" y1="145.0" y2="158.0" stroke="#000" stroke-opacity="0.4" stroke-width="1"/>
<rect x="507.0" y="149.1" width="1" height="8.2" fill="#000" fill-opacity="0.45"/>
<line x1="508.5" x2="508.5" y1="145.0" y2="158.0" stroke="#000" stroke-opacity="0.55" stroke-width="1"/>
<rect x="508.0" y="149.1" width="1" height="6.8" fill="#000" fill-opacity="1"/>
<line x1="509.5" x2="509.5" y1="154.4" y2="156.3" stroke="#000" stroke-opacity="0.55" stroke-width="1"/>
<rect x="509.0" y="155.9" width="1" height="0.8" fill="#000" fill-opacity="1"/>
<line x1="510.5" x2="510.5" y1="147.5" y2="156.6" stroke="#000" stroke-opacity="0.4" stroke-width="1"/>
<rect x="510.0" y="148.5" width="1" height="7.5" fill="#000" fill-opacity="0.45"/>
<line x1="511.5" x2="511.5" y1="145.0" y2="153.6" stroke="#000" stroke-opacity="0.4" stroke-width="1"/>
<rect x="511.0" y="147.1" width="1" height="1.5" fill="#000" fill-opacity="0.45"/>
<line x1="512.5" x2="512.5" y1="145.0" y2="158.0" stroke="#000" stroke-opacity="0.55" stroke-width="1"/>
<rect x="512.0" y="147.1" width="1" height="4.0" fill="#000" fill-opacity="1"/>
<line x1="513.5" x2="513.5" y1="145.0" y2="153.4" stroke="#000" stroke-opacity="0.4" stroke-width="1"/>
<rect x="513.0" y="148.2" width="1" height="2.8" fill="#000" fill-opacity="0.45"/>
<line x1="514.5" x2="514.5" y1="146.7" y2="153.0" stroke="#000" stroke-opacity="0.55" stroke-width="1"/>
<rect x="514.0" y="148.2" width="1" height="2.8" fill="#000" fill-opacity="1"/>
<line x1="515.5" x2="515.5" y1="142.3" y2="153.0" stroke="#000" stroke-opacity="0.4" stroke-width="1"/>
<rect x="515.0" y="147.9" width="1" height="3.1" fill="#000" fill-opacity="0.45"/>
<line x1="516.5" x2="516.5" y1="142.8" y2="148.8" stroke="#000" stroke-opacity="0.4" stroke-width="1"/>
<rect x="516.0" y="145.4" width="1" height="2.4" fill="#000" fill-opacity="0.45"/>
<line x1="517.5" x2="517.5" y1="140.0" y2="152.4" stroke="#000" stroke-opacity="0.55" stroke-width="1"/>
<rect x="517.0" y="145.4" width="1" height="5.7" fill="#000" fill-opacity="1"/>
<line x1="518.5" x2="518.5" y1="140.4" y2="153.0" stroke="#000" stroke-opacity="0.4" stroke-width="1"/>
<rect x="518.0" y="141.9" width="1" height="9.2" fill="#000" fill-opacity="0.45"/>
<line x1="519.5" x2="519.5" y1="140.0" y2="153.0" stroke="#000" stroke-opacity="0.55" stroke-width="1"/>
<rect x="519.0" y="141.9" width="1" height="8.5" fill="#000" fill-opacity="1"/>
<line x1="520.5" x2="520.5" y1="140.0" y2="153.0" stroke="#000" stroke-opacity="0.4" stroke-width="1"/>
<rect x="520.0" y="143.2" width="1" height="7.2" fill="#000" fill-opacity="0.45"/>
<line x1="521.5" x2="521.5" y1="123.0" y2="140.0" stroke="#000" stroke-opacity="0.4" stroke-width="1"/>
<rect x="521.0" y="137.8" width="1" height="1.4" fill="#000" fill-opacity="0.45"/>
<line x1="522.5" x2="522.5" y1="127.6" y2="140.0" stroke="#000" stroke-opacity="0.4" stroke-width="1"/>
<rect x="522.0" y="134.8" width="1" height="3.0" fill="#000" fill-opacity="0.45"/>
<line x1="523.5" x2="523.5" y1="130.3" y2="140.0" stroke="#000" stroke-opacity="0.55" stroke-width="1"/>
<rect x="523.0" y="134.8" width="1" height="1.0" fill="#000" fill-opacity="1"/>
<line x1="524.5" x2="524.5" y1="138.0" y2="153.0" stroke="#000" stroke-opacity="0.55" stroke-width="1"/>
<rect x="524.0" y="138.8" width="1" height="4.7" fill="#000" fill-opacity="1"/>
<line x1="525.5" x2="525.5" y1="142.4" y2="146.9" stroke="#000" stroke-opacity="0.55" stroke-width="1"/>
<rect x="525.0" y="143.5" width="1" height="1.8" fill="#000" fill-opacity="1"/>
<line x1="526.5" x2="526.5" y1="138.0" y2="149.3" stroke="#000" stroke-opacity="0.55" stroke-width="1"/>
<rect x="526.0" y="145.3" width="1" height="4.0" fill="#000" fill-opacity="1"/>
<line x1="527.5" x2="527.5" y1="153.0" y2="168.0" stroke="#000" stroke-opacity="0.55" stroke-width="1"/>
<rect x="527.0" y="153.8" width="1" height="10.2" fill="#000" fill-opacity="1"/>
<line x1="527.5" x2="527.5" y1="153.0" y2="166.4" stroke="#000" stroke-opacity="0.4" stroke-width="1"/>
<rect x="527.0" y="155.7" width="1" height="8.2" fill="#000" fill-opacity="0.45"/>
<line x1="528.5" x2="528.5" y1="153.0" y2="168.0" stroke="#000" stroke-opacity="0.55" stroke-width="1"/>
<rect x="528.0" y="155.7" width="1" height="7.7" fill="#000" fill-opacity="1"/>
<line x1="529.5" x2="529.5" y1="160.7" y2="168.0" stroke="#000" stroke-opacity="0.55" stroke-width="1"/>
<rect x="529.0" y="163.3" width="1" height="0.9" fill="#000" fill-opacity="1"/>
<line x1="530.5" x2="530.5" y1="163.0" y2="177.5" stroke="#000" stroke-opacity="0.55" stroke-width="1"/>
<rect x="530.0" y="164.2" width="1" height="11.6" fill="#000" fill-opacity="1"/>
<line x1="531.5" x2="531.5" y1="163.6" y2="178.0" stroke="#000" stroke-opacity="0.4" stroke-width="1"/>
<rect x="531.0" y="166.1" width="1" height="9.8" fill="#000" fill-opacity="0.45"/>
<line x1="532.5" x2="532.5" y1="164.9" y2="178.0" stroke="#000" stroke-opacity="0.55" stroke-width="1"/>
<rect x="532.0" y="166.1" width="1" height="7.1" fill="#000" fill-opacity="1"/>
<line x1="533.5" x2="533.5" y1="170.2" y2="175.9" stroke="#000" stroke-opacity="0.55" stroke-width="1"/>
<rect x="533.0" y="173.2" width="1" height="1.7" fill="#000" fill-opacity="1"/>
<line x1="534.5" x2="534.5" y1="163.0" y2="175.1" stroke="#000" stroke-opacity="0.4" stroke-width="1"/>
<rect x="534.0" y="166.8" width="1" height="8.2" fill="#000" fill-opacity="0.45"/>
<line x1="535.5" x2="535.5" y1="165.8" y2="175.0" stroke="#000" stroke-opacity="0.55" stroke-width="1"/>
<rect x="535.0" y="166.8" width="1" height="0.8" fill="#000" fill-opacity="1"/>
<line x1="536.5" x2="536.5" y1="163.0" y2="168.1" stroke="#000" stroke-opacity="0.4" stroke-width="1"/>
<rect x="536.0" y="167.3" width="1" height="0.8" fill="#000" fill-opacity="0.45"/>
<line x1="537.5" x2="537.5" y1="163.0" y2="175.0" stroke="#000" stroke-opacity="0.55" stroke-width="1"/>
<rect x="537.0" y="167.3" width="1" height="4.7" fill="#000" fill-opacity="1"/>
<line x1="538.5" x2="538.5" y1="173.0" y2="208.0" stroke="#000" stroke-opacity="0.55" stroke-width="1"/>
<rect x="538.0" y="174.8" width="1" height="17.3" fill="#000" fill-opacity="1"/>
<line x1="539.5" x2="539.5" y1="173.0" y2="206.1" stroke="#000" stroke-opacity="0.55" stroke-width="1"/>
<rect x="539.0" y="192.1" width="1" height="7.2" fill="#000" fill-opacity="1"/>
<line x1="540.5" x2="540.5" y1="198.5" y2="205.2" stroke="#000" stroke-opacity="0.55" stroke-width="1"/>
<rect x="540.0" y="199.2" width="1" height="3.6" fill="#000" fill-opacity="1"/>
<line x1="541.5" x2="541.5" y1="202.0" y2="206.0" stroke="#000" stroke-opacity="0.4" stroke-width="1"/>
<rect x="541.0" y="202.4" width="1" height="0.8" fill="#000" fill-opacity="0.45"/>
<line x1="542.5" x2="542.5" y1="188.0" y2="202.5" stroke="#000" stroke-opacity="0.4" stroke-width="1"/>
<rect x="542.0" y="201.5" width="1" height="0.9" fill="#000" fill-opacity="0.45"/>
<line x1="543.5" x2="543.5" y1="208.0" y2="240.8" stroke="#000" stroke-opacity="0.55" stroke-width="1"/>
<rect x="543.0" y="209.9" width="1" height="17.4" fill="#000" fill-opacity="1"/>
<line x1="544.5" x2="544.5" y1="208.0" y2="246.0" stroke="#000" stroke-opacity="0.55" stroke-width="1"/>
<rect x="544.0" y="227.3" width="1" height="12.5" fill="#000" fill-opacity="1"/>
<line x1="545.5" x2="545.5" y1="208.0" y2="244.5" stroke="#000" stroke-opacity="0.4" stroke-width="1"/>
<rect x="545.0" y="213.7" width="1" height="26.1" fill="#000" fill-opacity="0.45"/>
<line x1="546.5" x2="546.5" y1="208.0" y2="245.4" stroke="#000" stroke-opacity="0.55" stroke-width="1"/>
<rect x="546.0" y="213.7" width="1" height="22.8" fill="#000" fill-opacity="1"/>
<line x1="547.5" x2="547.5" y1="228.0" y2="237.2" stroke="#000" stroke-opacity="0.4" stroke-width="1"/>
<rect x="547.0" y="232.9" width="1" height="3.6" fill="#000" fill-opacity="0.45"/>
<line x1="548.5" x2="548.5" y1="228.8" y2="240.7" stroke="#000" stroke-opacity="0.55" stroke-width="1"/>
<rect x="548.0" y="232.9" width="1" height="5.6" fill="#000" fill-opacity="1"/>
<line x1="549.5" x2="549.5" y1="233.5" y2="246.0" stroke="#000" stroke-opacity="0.55" stroke-width="1"/>
<rect x="549.0" y="238.5" width="1" height="3.0" fill="#000" fill-opacity="1"/>
<line x1="550.5" x2="550.5" y1="231.0" y2="260.0" stroke="#000" stroke-opacity="0.4" stroke-width="1"/>
<rect x="550.0" y="234.5" width="1" height="7.0" fill="#000" fill-opacity="0.45"/>
<line x1="551.5" x2="551.5" y1="199.3" y2="211.0" stroke="#000" stroke-opacity="0.4" stroke-width="1"/>
<rect x="551.0" y="199.4" width="1" height="10.7" fill="#000" fill-opacity="0.45"/>
<line x1="552.5" x2="552.5" y1="193.0" y2="209.7" stroke="#000" stroke-opacity="0.55" stroke-width="1"/>
<rect x="552.0" y="199.4" width="1" height="2.9" fill="#000" fill-opacity="1"/>
<line x1="553.5" x2="553.5" y1="199.4" y2="204.5" stroke="#000" stroke-opacity="0.4" stroke-width="1"/>
<rect x="553.0" y="202.3" width="1" height="0.8" fill="#000" fill-opacity="0.45"/>
<line x1="554.5" x2="554.5" y1="193.0" y2="211.0" stroke="#000" stroke-opacity="0.55" stroke-width="1"/>
<rect x="554.0" y="202.3" width="1" height="4.2" fill="#000" fill-opacity="1"/>
<line x1="555.5" x2="555.5" y1="213.0" y2="220.7" stroke="#000" stroke-opacity="0.55" stroke-width="1"/>
<rect x="555.0" y="214.2" width="1" height="3.9" fill="#000" fill-opacity="1"/>
<line x1="556.5" x2="556.5" y1="213.0" y2="226.0" stroke="#000" stroke-opacity="0.55" stroke-width="1"/>
<rect x="556.0" y="218.1" width="1" height="7.5" fill="#000" fill-opacity="1"/>
<line x1="557.5" x2="557.5" y1="213.0" y2="236.0" stroke="#000" stroke-opacity="0.55" stroke-width="1"/>
<rect x="557.0" y="225.6" width="1" height="2.4" fill="#000" fill-opacity="1"/>
<line x1="558.5" x2="558.5" y1="213.0" y2="236.0" stroke="#000" stroke-opacity="0.4" stroke-width="1"/>
<rect x="558.0" y="222.0" width="1" height="6.0" fill="#000" fill-opacity="0.45"/>
<line x1="559.5" x2="559.5" y1="215.1" y2="224.5" stroke="#000" stroke-opacity="0.4" stroke-width="1"/>
<rect x="559.0" y="218.8" width="1" height="3.2" fill="#000" fill-opacity="0.45"/>
<line x1="559.5" x2="559.5" y1="208.0" y2="226.0" stroke="#000" stroke-opacity="0.4" stroke-width="1"/>
<rect x="559.0" y="218.0" width="1" height="0.8" fill="#000" fill-opacity="0.45"/>
<line x1="560.5" x2="560.5" y1="208.0" y2="221.7" stroke="#000" stroke-opacity="0.4" stroke-width="1"/>
<rect x="560.0" y="211.6" width="1" height="6.4" fill="#000" fill-opacity="0.45"/>
<line x1="561.5" x2="561.5" y1="208.0" y2="212.7" stroke="#000" stroke-opacity="0.4" stroke-width="1"/>
<rect x="561.0" y="210.5" width="1" height="1.1" fill="#000" fill-opacity="0.45"/>
<line x1="562.5" x2="562.5" y1="209.8" y2="218.5" stroke="#000" stroke-opacity="0.55" stroke-width="1"/>
<rect x="562.0" y="210.5" width="1" height="3.0" fill="#000" fill-opacity="1"/>
<line x1="563.5" x2="563.5" y1="210.0" y2="218.0" stroke="#000" stroke-opacity="0.4" stroke-width="1"/>
<rect x="563.0" y="212.5" width="1" height="1.0" fill="#000" fill-opacity="0.45"/>
<line x1="564.5" x2="564.5" y1="200.0" y2="213.9" stroke="#000" stroke-opacity="0.4" stroke-width="1"/>
<rect x="564.0" y="203.1" width="1" height="9.4" fill="#000" fill-opacity="0.45"/>
<line x1="565.5" x2="565.5" y1="200.0" y2="207.2" stroke="#000" stroke-opacity="0.4" stroke-width="1"/>
<rect x="565.0" y="202.1" width="1" height="1.0" fill="#000" fill-opacity="0.45"/>
<line x1="566.5" x2="566.5" y1="200.0" y2="209.0" stroke="#000" stroke-opacity="0.55" stroke-width="1"/>
<rect x="566.0" y="202.1" width="1" height="6.1" fill="#000" fill-opacity="1"/>
<line x1="567.5" x2="567.5" y1="200.0" y2="216.0" stroke="#000" stroke-opacity="0.4" stroke-width="1"/>
<rect x="567.0" y="204.0" width="1" height="4.3" fill="#000" fill-opacity="0.45"/>
<line x1="568.5" x2="568.5" y1="180.0" y2="200.0" stroke="#000" stroke-opacity="0.4" stroke-width="1"/>
<rect x="568.0" y="189.9" width="1" height="9.1" fill="#000" fill-opacity="0.45"/>
<line x1="569.5" x2="569.5" y1="180.6" y2="191.1" stroke="#000" stroke-opacity="0.4" stroke-width="1"/>
<rect x="569.0" y="184.3" width="1" height="5.6" fill="#000" fill-opacity="0.45"/>
<line x1="570.5" x2="570.5" y1="180.0" y2="192.7" stroke="#000" stroke-opacity="0.55" stroke-width="1"/>
<rect x="570.0" y="184.3" width="1" height="7.1" fill="#000" fill-opacity="1"/>
<line x1="571.5" x2="571.5" y1="184.7" y2="200.0" stroke="#000" stroke-opacity="0.55" stroke-width="1"/>
<rect x="571.0" y="191.4" width="1" height="3.6" fill="#000" fill-opacity="1"/>
<line x1="572.5" x2="572.5" y1="193.0" y2="220.6" stroke="#000" stroke-opacity="0.55" stroke-width="1"/>
<rect x="572.0" y="195.0" width="1" height="17.4" fill="#000" fill-opacity="1"/>
<line x1="573.5" x2="573.5" y1="193.0" y2="223.0" stroke="#000" stroke-opacity="0.55" stroke-width="1"/>
<rect x="573.0" y="212.4" width="1" height="3.1" fill="#000" fill-opacity="1"/>
<line x1="574.5" x2="574.5" y1="216.0" y2="230.9" stroke="#000" stroke-opacity="0.55" stroke-width="1"/>
<rect x="574.0" y="217.0" width="1" height="7.5" fill="#000" fill-opacity="1"/>
<line x1="575.5" x2="575.5" y1="219.4" y2="236.0" stroke="#000" stroke-opacity="0.55" stroke-width="1"/>
<rect x="575.0" y="224.5" width="1" height="6.7" fill="#000" fill-opacity="1"/>
<line x1="576.5" x2="576.5" y1="216.0" y2="236.0" stroke="#000" stroke-opacity="0.4" stroke-width="1"/>
<rect x="576.0" y="223.3" width="1" height="7.9" fill="#000" fill-opacity="0.45"/>
<line x1="577.5" x2="577.5" y1="219.7" y2="229.4" stroke="#000" stroke-opacity="0.4" stroke-width="1"/>
<rect x="577.0" y="221.0" width="1" height="2.3" fill="#000" fill-opacity="0.45"/>
<line x1="578.5" x2="578.5" y1="213.2" y2="220.3" stroke="#000" stroke-opacity="0.4" stroke-width="1"/>
<rect x="578.0" y="217.7" width="1" height="2.5" fill="#000" fill-opacity="0.45"/>
<line x1="579.5" x2="579.5" y1="206.0" y2="221.0" stroke="#000" stroke-opacity="0.4" stroke-width="1"/>
<rect x="579.0" y="209.0" width="1" height="8.7" fill="#000" fill-opacity="0.45"/>
<line x1="580.5" x2="580.5" y1="206.0" y2="211.3" stroke="#000" stroke-opacity="0.55" stroke-width="1"/>
<rect x="580.0" y="209.0" width="1" height="0.8" fill="#000" fill-opacity="1"/>
<line x1="581.5" x2="581.5" y1="202.2" y2="215.9" stroke="#000" stroke-opacity="0.55" stroke-width="1"/>
<rect x="581.0" y="209.8" width="1" height="1.0" fill="#000" fill-opacity="1"/>
<line x1="582.5" x2="582.5" y1="203.6" y2="216.0" stroke="#000" stroke-opacity="0.55" stroke-width="1"/>
<rect x="582.0" y="210.8" width="1" height="0.8" fill="#000" fill-opacity="1"/>
<line x1="583.5" x2="583.5" y1="198.0" y2="216.0" stroke="#000" stroke-opacity="0.55" stroke-width="1"/>
<rect x="583.0" y="211.2" width="1" height="0.8" fill="#000" fill-opacity="1"/>
<line x1="584.5" x2="584.5" y1="216.0" y2="250.0" stroke="#000" stroke-opacity="0.55" stroke-width="1"/>
<rect x="584.0" y="217.7" width="1" height="9.4" fill="#000" fill-opacity="1"/>
<line x1="585.5" x2="585.5" y1="216.0" y2="249.5" stroke="#000" stroke-opacity="0.55" stroke-width="1"/>
<rect x="585.0" y="227.1" width="1" height="14.4" fill="#000" fill-opacity="1"/>
<line x1="586.5" x2="586.5" y1="248.0" y2="268.6" stroke="#000" stroke-opacity="0.55" stroke-width="1"/>
<rect x="586.0" y="249.1" width="1" height="16.6" fill="#000" fill-opacity="1"/>
<line x1="587.5" x2="587.5" y1="259.7" y2="269.0" stroke="#000" stroke-opacity="0.4" stroke-width="1"/>
<rect x="587.0" y="260.9" width="1" height="4.8" fill="#000" fill-opacity="0.45"/>
<line x1="588.5" x2="588.5" y1="256.0" y2="268.3" stroke="#000" stroke-opacity="0.55" stroke-width="1"/>
<rect x="588.0" y="260.9" width="1" height="4.9" fill="#000" fill-opacity="1"/>
<line x1="589.5" x2="589.5" y1="248.2" y2="267.2" stroke="#000" stroke-opacity="0.4" stroke-width="1"/>
<rect x="589.0" y="253.2" width="1" height="12.5" fill="#000" fill-opacity="0.45"/>
<line x1="590.5" x2="590.5" y1="245.4" y2="263.0" stroke="#000" stroke-opacity="0.55" stroke-width="1"/>
<rect x="590.0" y="253.2" width="1" height="5.8" fill="#000" fill-opacity="1"/>
<line x1="591.5" x2="591.5" y1="244.0" y2="263.0" stroke="#000" stroke-opacity="0.4" stroke-width="1"/>
<rect x="591.0" y="250.2" width="1" height="8.8" fill="#000" fill-opacity="0.45"/>
<line x1="592.5" x2="592.5" y1="246.4" y2="256.4" stroke="#000" stroke-opacity="0.55" stroke-width="1"/>
<rect x="592.0" y="250.2" width="1" height="0.8" fill="#000" fill-opacity="1"/>
<line x1="592.5" x2="592.5" y1="246.2" y2="263.0" stroke="#000" stroke-opacity="0.4" stroke-width="1"/>
<rect x="592.0" y="249.5" width="1" height="0.9" fill="#000" fill-opacity="0.45"/>
<line x1="593.5" x2="593.5" y1="244.0" y2="254.2" stroke="#000" stroke-opacity="0.55" stroke-width="1"/>
<rect x="593.0" y="249.5" width="1" height="2.1" fill="#000" fill-opacity="1"/>
<line x1="594.5" x2="594.5" y1="244.6" y2="253.4" stroke="#000" stroke-opacity="0.55" stroke-width="1"/>
<rect x="594.0" y="251.6" width="1" height="1.6" fill="#000" fill-opacity="1"/>
<line x1="595.5" x2="595.5" y1="251.6" y2="262.9" stroke="#000" stroke-opacity="0.55" stroke-width="1"/>
<rect x="595.0" y="253.2" width="1" height="5.1" fill="#000" fill-opacity="1"/>
<line x1="596.5" x2="596.5" y1="253.0" y2="288.0" stroke="#000" stroke-opacity="0.4" stroke-width="1"/>
<rect x="596.0" y="257.5" width="1" height="0.8" fill="#000" fill-opacity="0.45"/>
<line x1="597.5" x2="597.5" y1="253.0" y2="271.3" stroke="#000" stroke-opacity="0.55" stroke-width="1"/>
<rect x="597.0" y="257.5" width="1" height="6.0" fill="#000" fill-opacity="1"/>
<line x1="598.5" x2="598.5" y1="253.0" y2="283.9" stroke="#000" stroke-opacity="0.55" stroke-width="1"/>
<rect x="598.0" y="263.5" width="1" height="15.7" fill="#000" fill-opacity="1"/>
<line x1="599.5" x2="599.5" y1="291.0" y2="308.4" stroke="#000" stroke-opacity="0.55" stroke-width="1"/>
<rect x="599.0" y="292.2" width="1" height="12.2" fill="#000" fill-opacity="1"/>
<line x1="600.5" x2="600.5" y1="298.7" y2="315.9" stroke="#000" stroke-opacity="0.55" stroke-width="1"/>
<rect x="600.0" y="304.5" width="1" height="2.0" fill="#000" fill-opacity="1"/>
<line x1="601.5" x2="601.5" y1="292.1" y2="316.0" stroke="#000" stroke-opacity="0.4" stroke-width="1"/>
<rect x="601.0" y="300.7" width="1" height="5.8" fill="#000" fill-opacity="0.45"/>
<line x1="602.5" x2="602.5" y1="291.0" y2="311.2" stroke="#000" stroke-opacity="0.4" stroke-width="1"/>
<rect x="602.0" y="297.2" width="1" height="3.5" fill="#000" fill-opacity="0.45"/>
<line x1="603.5" x2="603.5" y1="291.0" y2="306.8" stroke="#000" stroke-opacity="0.55" stroke-width="1"/>
<rect x="603.0" y="297.2" width="1" height="7.6" fill="#000" fill-opacity="1"/>
<line x1="604.5" x2="604.5" y1="301.1" y2="313.0" stroke="#000" stroke-opacity="0.4" stroke-width="1"/>
<rect x="604.0" y="303.9" width="1" height="1.0" fill="#000" fill-opacity="0.45"/>
<line x1="605.5" x2="605.5" y1="291.0" y2="313.0" stroke="#000" stroke-opacity="0.4" stroke-width="1"/>
<rect x="605.0" y="295.2" width="1" height="8.6" fill="#000" fill-opacity="0.45"/>
<line x1="606.5" x2="606.5" y1="292.6" y2="313.0" stroke="#000" stroke-opacity="0.55" stroke-width="1"/>
<rect x="606.0" y="295.2" width="1" height="15.1" fill="#000" fill-opacity="1"/>
<line x1="607.5" x2="607.5" y1="297.2" y2="313.0" stroke="#000" stroke-opacity="0.4" stroke-width="1"/>
<rect x="607.0" y="304.2" width="1" height="6.1" fill="#000" fill-opacity="0.45"/>
<line x1="608.5" x2="608.5" y1="300.1" y2="312.9" stroke="#000" stroke-opacity="0.55" stroke-width="1"/>
<rect x="608.0" y="304.2" width="1" height="3.3" fill="#000" fill-opacity="1"/>
<line x1="609.5" x2="609.5" y1="298.0" y2="308.5" stroke="#000" stroke-opacity="0.4" stroke-width="1"/>
<rect x="609.0" y="304.3" width="1" height="3.2" fill="#000" fill-opacity="0.45"/>
<line x1="610.5" x2="610.5" y1="302.4" y2="313.0" stroke="#000" stroke-opacity="0.55" stroke-width="1"/>
<rect x="610.0" y="304.3" width="1" height="5.2" fill="#000" fill-opacity="1"/>
<line x1="611.5" x2="611.5" y1="298.0" y2="313.0" stroke="#000" stroke-opacity="0.4" stroke-width="1"/>
<rect x="611.0" y="301.1" width="1" height="8.4" fill="#000" fill-opacity="0.45"/>
<line x1="612.5" x2="612.5" y1="298.0" y2="313.0" stroke="#000" stroke-opacity="0.55" stroke-width="1"/>
<rect x="612.0" y="301.1" width="1" height="2.0" fill="#000" fill-opacity="1"/>
<line x1="613.5" x2="613.5" y1="299.1" y2="310.2" stroke="#000" stroke-opacity="0.55" stroke-width="1"/>
<rect x="613.0" y="303.1" width="1" height="2.7" fill="#000" fill-opacity="1"/>
<line x1="614.5" x2="614.5" y1="298.0" y2="312.5" stroke="#000" stroke-opacity="0.4" stroke-width="1"/>
<rect x="614.0" y="301.8" width="1" height="4.0" fill="#000" fill-opacity="0.45"/>
<line x1="615.5" x2="615.5" y1="292.6" y2="306.0" stroke="#000" stroke-opacity="0.4" stroke-width="1"/>
<rect x="615.0" y="296.2" width="1" height="5.5" fill="#000" fill-opacity="0.45"/>
<line x1="616.5" x2="616.5" y1="293.7" y2="299.3" stroke="#000" stroke-opacity="0.55" stroke-width="1"/>
<rect x="616.0" y="296.2" width="1" height="1.5" fill="#000" fill-opacity="1"/>
<line x1="617.5" x2="617.5" y1="295.5" y2="306.0" stroke="#000" stroke-opacity="0.55" stroke-width="1"/>
<rect x="617.0" y="297.8" width="1" height="4.4" fill="#000" fill-opacity="1"/>
<line x1="618.5" x2="618.5" y1="291.0" y2="304.4" stroke="#000" stroke-opacity="0.4" stroke-width="1"/>
<rect x="618.0" y="294.8" width="1" height="7.4" fill="#000" fill-opacity="0.45"/>
<line x1="619.5" x2="619.5" y1="278.4" y2="296.0" stroke="#000" stroke-opacity="0.4" stroke-width="1"/>
<rect x="619.0" y="280.5" width="1" height="14.2" fill="#000" fill-opacity="0.45"/>
<line x1="620.5" x2="620.5" y1="278.0" y2="296.0" stroke="#000" stroke-opacity="0.55" stroke-width="1"/>
<rect x="620.0" y="280.5" width="1" height="2.0" fill="#000" fill-opacity="1"/>
<line x1="621.5" x2="621.5" y1="263.9" y2="281.0" stroke="#000" stroke-opacity="0.4" stroke-width="1"/>
<rect x="621.0" y="267.6" width="1" height="12.3" fill="#000" fill-opacity="0.45"/>
<line x1="622.5" x2="622.5" y1="258.0" y2="274.6" stroke="#000" stroke-opacity="0.4" stroke-width="1"/>
<rect x="622.0" y="266.9" width="1" height="0.8" fill="#000" fill-opacity="0.45"/>
<line x1="623.5" x2="623.5" y1="262.7" y2="281.0" stroke="#000" stroke-opacity="0.4" stroke-width="1"/>
<rect x="623.0" y="263.8" width="1" height="3.1" fill="#000" fill-opacity="0.45"/>
<line x1="624.5" x2="624.5" y1="248.7" y2="258.0" stroke="#000" stroke-opacity="0.4" stroke-width="1"/>
<rect x="624.0" y="252.1" width="1" height="5.2" fill="#000" fill-opacity="0.45"/>
<line x1="624.5" x2="624.5" y1="245.0" y2="254.7" stroke="#000" stroke-opacity="0.4" stroke-width="1"/>
<rect x="624.0" y="248.2" width="1" height="3.9" fill="#000" fill-opacity="0.45"/>
<line x1="625.5" x2="625.5" y1="240.2" y2="250.0" stroke="#000" stroke-opacity="0.4" stroke-width="1"/>
<rect x="625.0" y="241.7" width="1" height="6.5" fill="#000" fill-opacity="0.45"/>
<line x1="626.5" x2="626.5" y1="239.0" y2="250.0" stroke="#000" stroke-opacity="0.55" stroke-width="1"/>
<rect x="626.0" y="241.7" width="1" height="5.5" fill="#000" fill-opacity="1"/>
<line x1="627.5" x2="627.5" y1="243.0" y2="255.0" stroke="#000" stroke-opacity="0.55" stroke-width="1"/>
<rect x="627.0" y="247.2" width="1" height="4.7" fill="#000" fill-opacity="1"/>
<line x1="628.5" x2="628.5" y1="247.4" y2="253.5" stroke="#000" stroke-opacity="0.4" stroke-width="1"/>
<rect x="628.0" y="248.3" width="1" height="3.6" fill="#000" fill-opacity="0.45"/>
<line x1="629.5" x2="629.5" y1="243.0" y2="250.1" stroke="#000" stroke-opacity="0.55" stroke-width="1"/>
<rect x="629.0" y="248.3" width="1" height="0.8" fill="#000" fill-opacity="1"/>
<line x1="630.5" x2="630.5" y1="243.0" y2="252.4" stroke="#000" stroke-opacity="0.4" stroke-width="1"/>
<rect x="630.0" y="246.1" width="1" height="3.0" fill="#000" fill-opacity="0.45"/>
<line x1="631.5" x2="631.5" y1="243.0" y2="251.1" stroke="#000" stroke-opacity="0.55" stroke-width="1"/>
<rect x="631.0" y="246.1" width="1" height="1.6" fill="#000" fill-opacity="1"/>
<line x1="632.5" x2="632.5" y1="245.4" y2="255.0" stroke="#000" stroke-opacity="0.55" stroke-width="1"/>
<rect x="632.0" y="247.7" width="1" height="4.3" fill="#000" fill-opacity="1"/>
<line x1="633.5" x2="633.5" y1="250.0" y2="260.2" stroke="#000" stroke-opacity="0.55" stroke-width="1"/>
<rect x="633.0" y="252.0" width="1" height="6.4" fill="#000" fill-opacity="1"/>
<line x1="634.5" x2="634.5" y1="255.0" y2="263.0" stroke="#000" stroke-opacity="0.55" stroke-width="1"/>
<rect x="634.0" y="258.4" width="1" height="1.5" fill="#000" fill-opacity="1"/>
<line x1="635.5" x2="635.5" y1="250.6" y2="263.0" stroke="#000" stroke-opacity="0.4" stroke-width="1"/>
<rect x="635.0" y="253.5" width="1" height="6.4" fill="#000" fill-opacity="0.45"/>
<line x1="636.5" x2="636.5" y1="250.0" y2="257.3" stroke="#000" stroke-opacity="0.55" stroke-width="1"/>
<rect x="636.0" y="253.5" width="1" height="0.8" fill="#000" fill-opacity="1"/>
<line x1="637.5" x2="637.5" y1="250.8" y2="262.2" stroke="#000" stroke-opacity="0.55" stroke-width="1"/>
<rect x="637.0" y="254.2" width="1" height="5.6" fill="#000" fill-opacity="1"/>
<line x1="638.5" x2="638.5" y1="253.0" y2="267.0" stroke="#000" stroke-opacity="0.4" stroke-width="1"/>
<rect x="638.0" y="256.3" width="1" height="3.4" fill="#000" fill-opacity="0.45"/>
<line x1="639.5" x2="639.5" y1="253.0" y2="259.6" stroke="#000" stroke-opacity="0.4" stroke-width="1"/>
<rect x="639.0" y="255.7" width="1" height="0.8" fill="#000" fill-opacity="0.45"/>
<line x1="640.5" x2="640.5" y1="253.0" y2="267.0" stroke="#000" stroke-opacity="0.55" stroke-width="1"/>
<rect x="640.0" y="255.7" width="1" height="7.7" fill="#000" fill-opacity="1"/>
<line x1="641.5" x2="641.5" y1="255.3" y2="267.0" stroke="#000" stroke-opacity="0.4" stroke-width="1"/>
<rect x="641.0" y="255.3" width="1" height="8.1" fill="#000" fill-opacity="0.45"/>
<line x1="642.5" x2="642.5" y1="253.0" y2="265.7" stroke="#000" stroke-opacity="0.55" stroke-width="1"/>
<rect x="642.0" y="255.3" width="1" height="8.2" fill="#000" fill-opacity="1"/>
<line x1="643.5" x2="643.5" y1="262.0" y2="291.0" stroke="#000" stroke-opacity="0.55" stroke-width="1"/>
<rect x="643.0" y="263.5" width="1" height="5.1" fill="#000" fill-opacity="1"/>
<line x1="644.5" x2="644.5" y1="258.0" y2="275.3" stroke="#000" stroke-opacity="0.4" stroke-width="1"/>
<rect x="644.0" y="266.2" width="1" height="2.4" fill="#000" fill-opacity="0.45"/>
<line x1="645.5" x2="645.5" y1="260.0" y2="270.4" stroke="#000" stroke-opacity="0.4" stroke-width="1"/>
<rect x="645.0" y="262.6" width="1" height="3.7" fill="#000" fill-opacity="0.45"/>
<line x1="646.5" x2="646.5" y1="260.0" y2="276.0" stroke="#000" stroke-opacity="0.55" stroke-width="1"/>
<rect x="646.0" y="262.6" width="1" height="11.0" fill="#000" fill-opacity="1"/>
<line x1="647.5" x2="647.5" y1="264.6" y2="276.0" stroke="#000" stroke-opacity="0.4" stroke-width="1"/>
<rect x="647.0" y="265.0" width="1" height="8.6" fill="#000" fill-opacity="0.45"/>
<line x1="648.5" x2="648.5" y1="260.0" y2="276.0" stroke="#000" stroke-opacity="0.55" stroke-width="1"/>
<rect x="648.0" y="265.0" width="1" height="7.0" fill="#000" fill-opacity="1"/>
<line x1="649.5" x2="649.5" y1="267.9" y2="278.0" stroke="#000" stroke-opacity="0.4" stroke-width="1"/>
<rect x="649.0" y="269.6" width="1" height="2.4" fill="#000" fill-opacity="0.45"/>
<line x1="650.5" x2="650.5" y1="263.0" y2="278.0" stroke="#000" stroke-opacity="0.55" stroke-width="1"/>
<rect x="650.0" y="269.6" width="1" height="6.4" fill="#000" fill-opacity="1"/>
<line x1="651.5" x2="651.5" y1="268.5" y2="278.0" stroke="#000" stroke-opacity="0.4" stroke-width="1"/>
<rect x="651.0" y="272.5" width="1" height="3.5" fill="#000" fill-opacity="0.45"/>
<line x1="652.5" x2="652.5" y1="267.7" y2="274.4" stroke="#000" stroke-opacity="0.55" stroke-width="1"/>
<rect x="652.0" y="272.5" width="1" height="1.8" fill="#000" fill-opacity="1"/>
<line x1="653.5" x2="653.5" y1="276.0" y2="281.7" stroke="#000" stroke-opacity="0.55" stroke-width="1"/>
<rect x="653.0" y="276.9" width="1" height="3.4" fill="#000" fill-opacity="1"/>
<line x1="654.5" x2="654.5" y1="276.0" y2="293.0" stroke="#000" stroke-opacity="0.55" stroke-width="1"/>
<rect x="654.0" y="280.3" width="1" height="10.3" fill="#000" fill-opacity="1"/>
<line x1="655.5" x2="655.5" y1="276.0" y2="293.0" stroke="#000" stroke-opacity="0.4" stroke-width="1"/>
<rect x="655.0" y="279.5" width="1" height="11.1" fill="#000" fill-opacity="0.45"/>
<line x1="656.5" x2="656.5" y1="279.0" y2="293.0" stroke="#000" stroke-opacity="0.55" stroke-width="1"/>
<rect x="656.0" y="279.5" width="1" height="3.7" fill="#000" fill-opacity="1"/>
<line x1="656.5" x2="656.5" y1="280.6" y2="290.6" stroke="#000" stroke-opacity="0.55" stroke-width="1"/>
<rect x="656.0" y="283.2" width="1" height="5.5" fill="#000" fill-opacity="1"/>
<line x1="657.5" x2="657.5" y1="288.0" y2="294.3" stroke="#000" stroke-opacity="0.55" stroke-width="1"/>
<rect x="657.0" y="288.9" width="1" height="5.1" fill="#000" fill-opacity="1"/>
<line x1="658.5" x2="658.5" y1="288.0" y2="306.0" stroke="#000" stroke-opacity="0.55" stroke-width="1"/>
<rect x="658.0" y="294.0" width="1" height="5.2" fill="#000" fill-opacity="1"/>
<line x1="659.5" x2="659.5" y1="298.5" y2="302.0" stroke="#000" stroke-opacity="0.55" stroke-width="1"/>
<rect x="659.0" y="299.2" width="1" height="0.8" fill="#000" fill-opacity="1"/>
<line x1="660.5" x2="660.5" y1="298.8" y2="305.1" stroke="#000" stroke-opacity="0.55" stroke-width="1"/>
<rect x="660.0" y="299.8" width="1" height="1.7" fill="#000" fill-opacity="1"/>
<line x1="661.5" x2="661.5" y1="299.6" y2="307.1" stroke="#000" stroke-opacity="0.55" stroke-width="1"/>
<rect x="661.0" y="301.5" width="1" height="2.1" fill="#000" fill-opacity="1"/>
<line x1="662.5" x2="662.5" y1="298.6" y2="309.9" stroke="#000" stroke-opacity="0.55" stroke-width="1"/>
<rect x="662.0" y="303.6" width="1" height="3.8" fill="#000" fill-opacity="1"/>
<line x1="663.5" x2="663.5" y1="303.4" y2="315.0" stroke="#000" stroke-opacity="0.4" stroke-width="1"/>
<rect x="663.0" y="305.2" width="1" height="2.2" fill="#000" fill-opacity="0.45"/>
<line x1="664.5" x2="664.5" y1="296.0" y2="315.0" stroke="#000" stroke-opacity="0.55" stroke-width="1"/>
<rect x="664.0" y="305.2" width="1" height="5.1" fill="#000" fill-opacity="1"/>
<line x1="665.5" x2="665.5" y1="310.0" y2="327.4" stroke="#000" stroke-opacity="0.55" stroke-width="1"/>
<rect x="665.0" y="311.1" width="1" height="11.0" fill="#000" fill-opacity="1"/>
<line x1="666.5" x2="666.5" y1="314.3" y2="333.0" stroke="#000" stroke-opacity="0.55" stroke-width="1"/>
<rect x="666.0" y="322.1" width="1" height="5.1" fill="#000" fill-opacity="1"/>
<line x1="667.5" x2="667.5" y1="330.0" y2="349.4" stroke="#000" stroke-opacity="0.55" stroke-width="1"/>
<rect x="667.0" y="331.4" width="1" height="17.6" fill="#000" fill-opacity="1"/>
<line x1="668.5" x2="668.5" y1="346.8" y2="358.0" stroke="#000" stroke-opacity="0.4" stroke-width="1"/>
<rect x="668.0" y="348.6" width="1" height="0.8" fill="#000" fill-opacity="0.45"/>
<line x1="669.5" x2="669.5" y1="339.9" y2="358.0" stroke="#000" stroke-opacity="0.55" stroke-width="1"/>
<rect x="669.0" y="348.6" width="1" height="2.4" fill="#000" fill-opacity="1"/>
<line x1="670.5" x2="670.5" y1="350.0" y2="394.0" stroke="#000" stroke-opacity="0.55" stroke-width="1"/>
<rect x="670.0" y="352.2" width="1" height="9.4" fill="#000" fill-opacity="1"/>
<line x1="671.5" x2="671.5" y1="350.0" y2="394.0" stroke="#000" stroke-opacity="0.55" stroke-width="1"/>
<rect x="671.0" y="361.6" width="1" height="21.4" fill="#000" fill-opacity="1"/>
<line x1="672.5" x2="672.5" y1="382.2" y2="393.9" stroke="#000" stroke-opacity="0.55" stroke-width="1"/>
<rect x="672.0" y="383.0" width="1" height="8.3" fill="#000" fill-opacity="1"/>
<line x1="673.5" x2="673.5" y1="387.7" y2="396.0" stroke="#000" stroke-opacity="0.55" stroke-width="1"/>
<rect x="673.0" y="391.3" width="1" height="1.5" fill="#000" fill-opacity="1"/>
<line x1="674.5" x2="674.5" y1="388.6" y2="398.0" stroke="#000" stroke-opacity="0.55" stroke-width="1"/>
<rect x="674.0" y="392.8" width="1" height="0.8" fill="#000" fill-opacity="1"/>
<line x1="675.5" x2="675.5" y1="382.2" y2="398.0" stroke="#000" stroke-opacity="0.4" stroke-width="1"/>
<rect x="675.0" y="390.0" width="1" height="3.3" fill="#000" fill-opacity="0.45"/>
<line x1="676.5" x2="676.5" y1="379.8" y2="397.1" stroke="#000" stroke-opacity="0.4" stroke-width="1"/>
<rect x="676.0" y="383.1" width="1" height="6.9" fill="#000" fill-opacity="0.45"/>
<line x1="677.5" x2="677.5" y1="378.0" y2="398.0" stroke="#000" stroke-opacity="0.4" stroke-width="1"/>
<rect x="677.0" y="383.0" width="1" height="0.8" fill="#000" fill-opacity="0.45"/>
<line x1="678.5" x2="678.5" y1="371.2" y2="382.0" stroke="#000" stroke-opacity="0.4" stroke-width="1"/>
<rect x="678.0" y="376.2" width="1" height="5.3" fill="#000" fill-opacity="0.45"/>
<line x1="679.5" x2="679.5" y1="375.7" y2="381.3" stroke="#000" stroke-opacity="0.55" stroke-width="1"/>
<rect x="679.0" y="376.2" width="1" height="3.7" fill="#000" fill-opacity="1"/>
<line x1="680.5" x2="680.5" y1="371.0" y2="381.0" stroke="#000" stroke-opacity="0.4" stroke-width="1"/>
<rect x="680.0" y="379.2" width="1" height="0.8" fill="#000" fill-opacity="0.45"/>
<line x1="676.5" x2="676.5" y1="385.0" y2="401.6" stroke="#000" stroke-opacity="0.8" stroke-width="1"/>
<line x1="108.5" x2="108.5" y1="250.0" y2="279.0" stroke="#000" stroke-opacity="0.8" stroke-width="1"/>
<line x1="101.5" x2="101.5" y1="198.0" y2="215.0" stroke="#000" stroke-opacity="0.8" stroke-width="1"/>
<line x1="342.5" x2="342.5" y1="100.0" y2="158.0" stroke="#000" stroke-opacity="0.8" stroke-width="1"/>
<line x1="606.5" x2="606.5" y1="300.0" y2="320.0" stroke="#000" stroke-opacity="0.8" stroke-width="1"/>
<line x1="364.5" x2="364.5" y1="91.0" y2="140.0" stroke="#000" stroke-opacity="0.8" stroke-width="1"/>
<line x1="550.5" x2="550.5" y1="231.0" y2="260.0" stroke="#000" stroke-opacity="0.8" stroke-width="1"/>
<line x1="10.5" x2="10.5" y1="300.0" y2="323.0" stroke="#000" stroke-opacity="0.8" stroke-width="1"/>
<line x1="324.5" x2="324.5" y1="110.0" y2="136.0" stroke="#000" stroke-opacity="0.8" stroke-width="1"/>
<line x1="0" x2="819" y1="375.1" y2="375.1" stroke="#999" stroke-width="0.8" stroke-dasharray="1.3,1"/>
<rect x="819.5" y="0" width="31" height="436" fill="#fff"/>
<rect x="0" y="424.5" width="850" height="12" fill="#fff"/>
<line x1="819.5" x2="819.5" y1="0" y2="425" stroke="#6a6a6a" stroke-width="1"/>
<line x1="0" x2="820" y1="424.5" y2="424.5" stroke="#777" stroke-width="1"/>
<line x1="819.5" x2="822" y1="14.9" y2="14.9" stroke="#666" stroke-width="1"/>
<text x="824.5" y="18.3" font-size="8.3" textLength="23.2" lengthAdjust="spacingAndGlyphs" fill="#555">115.00</text>
<line x1="819.5" x2="822" y1="64.1" y2="64.1" stroke="#666" stroke-width="1"/>
<text x="824.5" y="67.5" font-size="8.3" textLength="23.2" lengthAdjust="spacingAndGlyphs" fill="#555">114.50</text>
<line x1="819.5" x2="822" y1="113.4" y2="113.4" stroke="#666" stroke-width="1"/>
<text x="824.5" y="116.8" font-size="8.3" textLength="23.2" lengthAdjust="spacingAndGlyphs" fill="#555">114.00</text>
<line x1="819.5" x2="822" y1="162.6" y2="162.6" stroke="#666" stroke-width="1"/>
<text x="824.5" y="166.0" font-size="8.3" textLength="23.2" lengthAdjust="spacingAndGlyphs" fill="#555">113.50</text>
<line x1="819.5" x2="822" y1="211.8" y2="211.8" stroke="#666" stroke-width="1"/>
<text x="824.5" y="215.2" font-size="8.3" textLength="23.2" lengthAdjust="spacingAndGlyphs" fill="#555">113.00</text>
<line x1="819.5" x2="822" y1="261.0" y2="261.0" stroke="#666" stroke-width="1"/>
<text x="824.5" y="264.4" font-size="8.3" textLength="23.2" lengthAdjust="spacingAndGlyphs" fill="#555">112.50</text>
<line x1="819.5" x2="822" y1="310.2" y2="310.2" stroke="#666" stroke-width="1"/>
<text x="824.5" y="313.7" font-size="8.3" textLength="23.2" lengthAdjust="spacingAndGlyphs" fill="#555">112.00</text>
<line x1="819.5" x2="822" y1="359.5" y2="359.5" stroke="#666" stroke-width="1"/>
<text x="824.5" y="362.9" font-size="8.3" textLength="23.2" lengthAdjust="spacingAndGlyphs" fill="#555">111.50</text>
<line x1="819.5" x2="822" y1="408.7" y2="408.7" stroke="#666" stroke-width="1"/>
<text x="824.5" y="412.1" font-size="8.3" textLength="23.2" lengthAdjust="spacingAndGlyphs" fill="#555">111.00</text>
<text x="2" y="434.6" font-size="8.1" text-anchor="middle" fill="#555">3</text>
<line x1="70.5" x2="70.5" y1="424" y2="427" stroke="#555" stroke-width="1"/>
<text x="70.5" y="434.6" font-size="8.1" text-anchor="middle" fill="#555">18</text>
<line x1="140" x2="140" y1="424" y2="427" stroke="#555" stroke-width="1"/>
<text x="140" y="434.6" font-size="8.1" text-anchor="middle" fill="#555">23</text>
<line x1="209.8" x2="209.8" y1="424" y2="427" stroke="#555" stroke-width="1"/>
<text x="209.8" y="434.6" font-size="8.1" text-anchor="middle" fill="#555">26</text>
<line x1="302.7" x2="302.7" y1="424" y2="427" stroke="#555" stroke-width="1"/>
<text x="302.7" y="434.6" font-size="8.1" text-anchor="middle" fill="#555">Ноя</text>
<line x1="372.1" x2="372.1" y1="424" y2="427" stroke="#555" stroke-width="1"/>
<text x="372.1" y="434.6" font-size="8.1" text-anchor="middle" fill="#555">6</text>
<line x1="441.5" x2="441.5" y1="424" y2="427" stroke="#555" stroke-width="1"/>
<text x="441.5" y="434.6" font-size="8.1" text-anchor="middle" fill="#555">9</text>
<line x1="511" x2="511" y1="424" y2="427" stroke="#555" stroke-width="1"/>
<text x="511" y="434.6" font-size="8.1" text-anchor="middle" fill="#555">14</text>
<line x1="580.6" x2="580.6" y1="424" y2="427" stroke="#555" stroke-width="1"/>
<text x="580.6" y="434.6" font-size="8.1" text-anchor="middle" fill="#555">17</text>
<line x1="650" x2="650" y1="424" y2="427" stroke="#555" stroke-width="1"/>
<text x="650" y="434.6" font-size="8.1" text-anchor="middle" fill="#555">22</text>
<line x1="720" x2="720" y1="424" y2="427" stroke="#555" stroke-width="1"/>
<text x="720" y="434.6" font-size="8.1" text-anchor="middle" fill="#555">27</text>
<line x1="0.5" x2="0.5" y1="424" y2="427" stroke="#555" stroke-width="1"/>
<text x="814" y="434.6" font-size="8.1" text-anchor="middle" fill="#555">Дек</text>
<rect x="818.6" y="425" width="32" height="11" fill="#fff"/>
<line x1="813.3" x2="813.3" y1="424" y2="427" stroke="#555" stroke-width="1"/>
<rect x="819" y="370.2" width="31" height="10.7" fill="#000"/>
<text x="824.5" y="378.7" font-size="8.6" textLength="22" lengthAdjust="spacingAndGlyphs" fill="#fff" stroke="#fff" stroke-width="0.3">111.34</text>
<rect x="1.6" y="7.6" width="9" height="8.8" rx="1.8" fill="#fff" stroke="#888" stroke-width="0.9"/><line x1="3.6" x2="8.6" y1="11.9" y2="11.9" stroke="#777" stroke-width="1"/>
<text x="15.4" y="16.4" font-size="12" fill="#555" textLength="70" lengthAdjust="spacingAndGlyphs">USD/JPY, 60,</text>
<polygon points="89.5,11 94.3,11 91.9,13.3" fill="#bbb"/>
<rect x="101.8" y="6.8" width="9.8" height="9.8" rx="1" fill="#e2e2e2"/><ellipse cx="106.7" cy="11.7" rx="2.6" ry="1.9" fill="none" stroke="#fff" stroke-width="0.9"/><circle cx="106.7" cy="11.7" r="0.8" fill="#fff"/>
<rect x="114" y="6.8" width="9.8" height="9.8" rx="1" fill="#e2e2e2"/><circle cx="118.9" cy="11.7" r="2.2" fill="none" stroke="#fff" stroke-width="1.5" stroke-dasharray="1.2,0.6"/><circle cx="118.9" cy="11.7" r="1.6" fill="none" stroke="#fff" stroke-width="0.9"/>
</svg>
</body></html>
